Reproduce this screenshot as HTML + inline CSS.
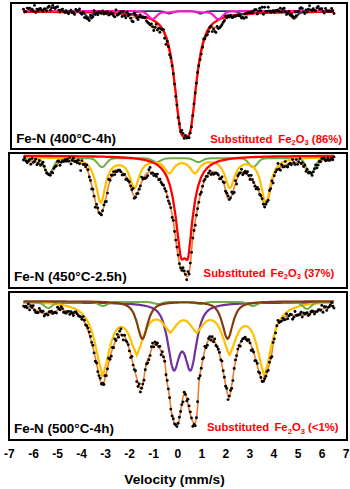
<!DOCTYPE html>
<html><head><meta charset="utf-8"><style>
html,body{margin:0;padding:0;background:#fff;}
body{width:350px;height:489px;overflow:hidden;position:relative;}
svg{position:absolute;left:0;top:0;}
text{font-family:"Liberation Sans",sans-serif;font-weight:bold;}
</style></head><body>
<svg width="350" height="489" viewBox="0 0 350 489">
<path d="M23.5,11.4L24.2,11.4L25.0,11.4L25.8,11.4L26.5,11.4L27.2,11.4L28.0,11.4L28.8,11.4L29.5,11.4L30.2,11.4L31.0,11.4L31.8,11.4L32.5,11.4L33.2,11.4L34.0,11.4L34.8,11.4L35.5,11.4L36.2,11.5L37.0,11.5L37.8,11.5L38.5,11.5L39.2,11.5L40.0,11.5L40.8,11.5L41.5,11.5L42.2,11.5L43.0,11.5L43.8,11.5L44.5,11.5L45.2,11.5L46.0,11.5L46.8,11.5L47.5,11.5L48.2,11.5L49.0,11.6L49.8,11.6L50.5,11.6L51.2,11.6L52.0,11.6L52.8,11.6L53.5,11.6L54.2,11.6L55.0,11.6L55.8,11.6L56.5,11.6L57.2,11.6L58.0,11.7L58.8,11.7L59.5,11.7L60.2,11.7L61.0,11.7L61.8,11.7L62.5,11.7L63.2,11.7L64.0,11.7L64.8,11.8L65.5,11.8L66.2,11.8L67.0,11.8L67.8,11.8L68.5,11.8L69.2,11.9L70.0,11.9L70.8,11.9L71.5,11.9L72.2,12.0L73.0,12.0L73.8,12.0L74.5,12.1L75.2,12.1L76.0,12.1L76.8,12.2L77.5,12.3L78.2,12.3L79.0,12.4L79.8,12.5L80.5,12.7L81.2,12.9L82.0,13.2L82.8,13.5L83.5,14.0L84.2,14.5L85.0,15.2L85.8,16.0L86.5,16.8L87.2,17.6L88.0,18.2L88.8,18.5L89.5,18.5L90.2,18.0L91.0,17.4L91.8,16.6L92.5,15.9L93.2,15.2L94.0,14.6L94.8,14.1L95.5,13.7L96.2,13.4L97.0,13.2L97.8,13.0L98.5,12.9L99.2,12.9L100.0,12.8L100.8,12.8L101.5,12.8L102.2,12.7L103.0,12.7L103.8,12.7L104.5,12.7L105.2,12.8L106.0,12.8L106.8,12.8L107.5,12.8L108.2,12.8L109.0,12.8L109.8,12.9L110.5,12.9L111.2,12.9L112.0,13.0L112.8,13.0L113.5,13.1L114.2,13.1L115.0,13.1L115.8,13.2L116.5,13.2L117.2,13.3L118.0,13.4L118.8,13.4L119.5,13.5L120.2,13.6L121.0,13.7L121.8,13.8L122.5,13.9L123.2,14.1L124.0,14.3L124.8,14.5L125.5,14.8L126.2,15.2L127.0,15.6L127.8,16.1L128.5,16.6L129.2,17.1L130.0,17.5L130.8,17.8L131.5,17.8L132.2,17.7L133.0,17.4L133.8,17.1L134.5,16.8L135.2,16.6L136.0,16.4L136.8,16.2L137.5,16.2L138.2,16.1L139.0,16.2L139.8,16.3L140.5,16.5L141.2,16.7L142.0,16.9L142.8,17.3L143.5,17.7L144.2,18.2L145.0,18.8L145.8,19.5L146.5,20.3L147.2,21.3L148.0,22.3L148.8,23.3L149.5,24.4L150.2,25.4L151.0,26.3L151.8,27.1L152.5,27.6L153.2,27.9L154.0,27.9L154.8,27.8L155.5,27.7L156.2,27.4L157.0,27.3L157.8,27.2L158.5,27.3L159.2,27.5L160.0,27.9L160.8,28.5L161.5,29.3L162.2,30.3L163.0,31.6L163.8,33.1L164.5,34.8L165.2,36.9L166.0,39.1L166.8,41.7L167.5,44.5L168.2,47.5L169.0,50.7L169.8,54.1L170.5,57.8L171.2,61.7L172.0,66.0L172.8,70.8L173.5,76.1L174.2,81.8L175.0,88.0L175.8,94.5L176.5,101.2L177.2,108.0L178.0,114.4L178.8,120.4L179.5,125.5L180.2,129.7L181.0,132.8L181.8,134.8L182.5,136.0L183.2,136.6L184.0,136.7L184.8,136.7L185.5,136.7L186.2,136.7L187.0,136.7L187.8,136.5L188.5,135.9L189.2,134.7L190.0,132.5L190.8,129.3L191.5,125.0L192.2,119.8L193.0,113.8L193.8,107.4L194.5,100.7L195.2,94.0L196.0,87.5L196.8,81.4L197.5,75.8L198.2,70.6L199.0,65.9L199.8,61.5L200.5,57.5L201.2,53.7L202.0,50.1L202.8,46.8L203.5,43.8L204.2,41.1L205.0,38.6L205.8,36.4L206.5,34.4L207.2,32.8L208.0,31.3L208.8,30.1L209.5,29.2L210.2,28.4L211.0,27.9L211.8,27.5L212.5,27.3L213.2,27.3L214.0,27.4L214.8,27.6L215.5,27.8L216.2,28.0L217.0,28.1L217.8,28.0L218.5,27.7L219.2,27.2L220.0,26.4L220.8,25.4L221.5,24.4L222.2,23.3L223.0,22.2L223.8,21.2L224.5,20.2L225.2,19.4L226.0,18.7L226.8,18.1L227.5,17.6L228.2,17.2L229.0,16.8L229.8,16.5L230.5,16.3L231.2,16.1L232.0,15.9L232.8,15.8L233.5,15.7L234.2,15.6L235.0,15.6L235.8,15.5L236.5,15.6L237.2,15.7L238.0,15.9L238.8,16.1L239.5,16.4L240.2,16.7L241.0,17.0L241.8,17.3L242.5,17.5L243.2,17.4L244.0,17.2L244.8,16.8L245.5,16.3L246.2,15.8L247.0,15.3L247.8,14.9L248.5,14.6L249.2,14.3L250.0,14.0L250.8,13.8L251.5,13.7L252.2,13.6L253.0,13.5L253.8,13.4L254.5,13.3L255.2,13.2L256.0,13.2L256.8,13.1L257.5,13.0L258.2,13.0L259.0,12.9L259.8,12.9L260.5,12.9L261.2,12.8L262.0,12.8L262.8,12.8L263.5,12.7L264.2,12.7L265.0,12.7L265.8,12.6L266.5,12.6L267.2,12.6L268.0,12.6L268.8,12.5L269.5,12.5L270.2,12.5L271.0,12.5L271.8,12.5L272.5,12.4L273.2,12.4L274.0,12.4L274.8,12.4L275.5,12.4L276.2,12.4L277.0,12.4L277.8,12.4L278.5,12.4L279.2,12.4L280.0,12.4L280.8,12.4L281.5,12.5L282.2,12.5L283.0,12.6L283.8,12.6L284.5,12.7L285.2,12.9L286.0,13.0L286.8,13.3L287.5,13.6L288.2,14.1L289.0,14.7L289.8,15.4L290.5,16.2L291.2,17.1L292.0,18.0L292.8,18.7L293.5,19.2L294.2,19.3L295.0,18.9L295.8,18.2L296.5,17.3L297.2,16.4L298.0,15.5L298.8,14.7L299.5,14.1L300.2,13.6L301.0,13.2L301.8,12.9L302.5,12.6L303.2,12.5L304.0,12.3L304.8,12.2L305.5,12.2L306.2,12.1L307.0,12.0L307.8,12.0L308.5,12.0L309.2,11.9L310.0,11.9L310.8,11.9L311.5,11.8L312.2,11.8L313.0,11.8L313.8,11.8L314.5,11.7L315.2,11.7L316.0,11.7L316.8,11.7L317.5,11.7L318.2,11.7L319.0,11.6L319.8,11.6L320.5,11.6L321.2,11.6L322.0,11.6L322.8,11.6L323.5,11.6L324.2,11.6L325.0,11.6L325.8,11.6L326.5,11.5L327.2,11.5L328.0,11.5L328.8,11.5L329.5,11.5L330.2,11.5L331.0,11.5L331.8,11.5L332.5,11.5L333.2,11.5L334.0,11.5" stroke="#ED7D31" stroke-width="1.6" fill="none"/>
<path d="M23.5,11.7L24.2,11.8L25.0,11.8L25.8,11.8L26.5,11.8L27.2,11.8L28.0,11.8L28.8,11.8L29.5,11.8L30.2,11.8L31.0,11.8L31.8,11.8L32.5,11.8L33.2,11.8L34.0,11.8L34.8,11.8L35.5,11.8L36.2,11.8L37.0,11.8L37.8,11.8L38.5,11.8L39.2,11.8L40.0,11.8L40.8,11.8L41.5,11.8L42.2,11.8L43.0,11.9L43.8,11.9L44.5,11.9L45.2,11.9L46.0,11.9L46.8,11.9L47.5,11.9L48.2,11.9L49.0,11.9L49.8,11.9L50.5,11.9L51.2,11.9L52.0,11.9L52.8,11.9L53.5,11.9L54.2,11.9L55.0,11.9L55.8,11.9L56.5,11.9L57.2,12.0L58.0,12.0L58.8,12.0L59.5,12.0L60.2,12.0L61.0,12.0L61.8,12.0L62.5,12.0L63.2,12.0L64.0,12.0L64.8,12.0L65.5,12.0L66.2,12.0L67.0,12.1L67.8,12.1L68.5,12.1L69.2,12.1L70.0,12.1L70.8,12.1L71.5,12.1L72.2,12.1L73.0,12.1L73.8,12.1L74.5,12.1L75.2,12.2L76.0,12.2L76.8,12.2L77.5,12.2L78.2,12.2L79.0,12.2L79.8,12.2L80.5,12.2L81.2,12.2L82.0,12.3L82.8,12.3L83.5,12.3L84.2,12.3L85.0,12.3L85.8,12.3L86.5,12.3L87.2,12.3L88.0,12.4L88.8,12.4L89.5,12.4L90.2,12.4L91.0,12.4L91.8,12.4L92.5,12.5L93.2,12.5L94.0,12.5L94.8,12.5L95.5,12.5L96.2,12.5L97.0,12.6L97.8,12.6L98.5,12.6L99.2,12.6L100.0,12.7L100.8,12.7L101.5,12.7L102.2,12.7L103.0,12.7L103.8,12.8L104.5,12.8L105.2,12.8L106.0,12.8L106.8,12.9L107.5,12.9L108.2,12.9L109.0,13.0L109.8,13.0L110.5,13.0L111.2,13.1L112.0,13.1L112.8,13.1L113.5,13.2L114.2,13.2L115.0,13.2L115.8,13.3L116.5,13.3L117.2,13.4L118.0,13.4L118.8,13.5L119.5,13.5L120.2,13.6L121.0,13.6L121.8,13.7L122.5,13.7L123.2,13.8L124.0,13.8L124.8,13.9L125.5,13.9L126.2,14.0L127.0,14.1L127.8,14.1L128.5,14.2L129.2,14.3L130.0,14.4L130.8,14.5L131.5,14.5L132.2,14.6L133.0,14.7L133.8,14.8L134.5,14.9L135.2,15.0L136.0,15.1L136.8,15.3L137.5,15.4L138.2,15.5L139.0,15.6L139.8,15.8L140.5,15.9L141.2,16.1L142.0,16.3L142.8,16.4L143.5,16.6L144.2,16.8L145.0,17.0L145.8,17.2L146.5,17.4L147.2,17.7L148.0,17.9L148.8,18.2L149.5,18.5L150.2,18.8L151.0,19.1L151.8,19.5L152.5,19.8L153.2,20.2L154.0,20.7L154.8,21.1L155.5,21.6L156.2,22.1L157.0,22.7L157.8,23.4L158.5,24.0L159.2,24.8L160.0,25.6L160.8,26.5L161.5,27.5L162.2,28.6L163.0,29.9L163.8,31.3L164.5,32.8L165.2,34.6L166.0,36.5L166.8,38.7L167.5,41.2L168.2,43.9L169.0,47.0L169.8,50.5L170.5,54.4L171.2,58.7L172.0,63.4L172.8,68.6L173.5,74.2L174.2,80.3L175.0,86.8L175.8,93.5L176.5,100.5L177.2,107.3L178.0,113.9L178.8,119.9L179.5,125.1L180.2,129.4L181.0,132.5L181.8,134.6L182.5,135.8L183.2,136.4L184.0,136.5L184.8,136.5L185.5,136.5L186.2,136.5L187.0,136.5L187.8,136.3L188.5,135.7L189.2,134.4L190.0,132.2L190.8,129.0L191.5,124.6L192.2,119.3L193.0,113.2L193.8,106.6L194.5,99.7L195.2,92.8L196.0,86.1L196.8,79.6L197.5,73.6L198.2,68.0L199.0,62.9L199.8,58.2L200.5,53.9L201.2,50.1L202.0,46.7L202.8,43.6L203.5,40.9L204.2,38.5L205.0,36.3L205.8,34.4L206.5,32.7L207.2,31.1L208.0,29.7L208.8,28.5L209.5,27.4L210.2,26.4L211.0,25.5L211.8,24.7L212.5,24.0L213.2,23.3L214.0,22.7L214.8,22.1L215.5,21.6L216.2,21.1L217.0,20.6L217.8,20.2L218.5,19.8L219.2,19.4L220.0,19.1L220.8,18.8L221.5,18.5L222.2,18.2L223.0,17.9L223.8,17.6L224.5,17.4L225.2,17.2L226.0,17.0L226.8,16.8L227.5,16.6L228.2,16.4L229.0,16.2L229.8,16.1L230.5,15.9L231.2,15.8L232.0,15.6L232.8,15.5L233.5,15.4L234.2,15.2L235.0,15.1L235.8,15.0L236.5,14.9L237.2,14.8L238.0,14.7L238.8,14.6L239.5,14.5L240.2,14.4L241.0,14.4L241.8,14.3L242.5,14.2L243.2,14.1L244.0,14.1L244.8,14.0L245.5,13.9L246.2,13.9L247.0,13.8L247.8,13.8L248.5,13.7L249.2,13.6L250.0,13.6L250.8,13.5L251.5,13.5L252.2,13.5L253.0,13.4L253.8,13.4L254.5,13.3L255.2,13.3L256.0,13.2L256.8,13.2L257.5,13.2L258.2,13.1L259.0,13.1L259.8,13.1L260.5,13.0L261.2,13.0L262.0,13.0L262.8,12.9L263.5,12.9L264.2,12.9L265.0,12.8L265.8,12.8L266.5,12.8L267.2,12.8L268.0,12.7L268.8,12.7L269.5,12.7L270.2,12.7L271.0,12.6L271.8,12.6L272.5,12.6L273.2,12.6L274.0,12.6L274.8,12.5L275.5,12.5L276.2,12.5L277.0,12.5L277.8,12.5L278.5,12.5L279.2,12.4L280.0,12.4L280.8,12.4L281.5,12.4L282.2,12.4L283.0,12.4L283.8,12.3L284.5,12.3L285.2,12.3L286.0,12.3L286.8,12.3L287.5,12.3L288.2,12.3L289.0,12.3L289.8,12.2L290.5,12.2L291.2,12.2L292.0,12.2L292.8,12.2L293.5,12.2L294.2,12.2L295.0,12.2L295.8,12.2L296.5,12.1L297.2,12.1L298.0,12.1L298.8,12.1L299.5,12.1L300.2,12.1L301.0,12.1L301.8,12.1L302.5,12.1L303.2,12.1L304.0,12.1L304.8,12.0L305.5,12.0L306.2,12.0L307.0,12.0L307.8,12.0L308.5,12.0L309.2,12.0L310.0,12.0L310.8,12.0L311.5,12.0L312.2,12.0L313.0,12.0L313.8,12.0L314.5,11.9L315.2,11.9L316.0,11.9L316.8,11.9L317.5,11.9L318.2,11.9L319.0,11.9L319.8,11.9L320.5,11.9L321.2,11.9L322.0,11.9L322.8,11.9L323.5,11.9L324.2,11.9L325.0,11.9L325.8,11.9L326.5,11.9L327.2,11.9L328.0,11.8L328.8,11.8L329.5,11.8L330.2,11.8L331.0,11.8L331.8,11.8L332.5,11.8L333.2,11.8L334.0,11.8" stroke="#FF0000" stroke-width="2.3" fill="none"/>
<path d="M23.5,10.9L24.2,10.9L25.0,10.9L25.8,10.9L26.5,10.9L27.2,10.9L28.0,10.9L28.8,10.9L29.5,10.9L30.2,10.9L31.0,10.9L31.8,10.9L32.5,10.9L33.2,10.9L34.0,10.9L34.8,10.9L35.5,10.9L36.2,10.9L37.0,10.9L37.8,10.9L38.5,10.9L39.2,10.9L40.0,10.9L40.8,10.9L41.5,10.9L42.2,10.9L43.0,10.9L43.8,10.9L44.5,10.9L45.2,10.9L46.0,10.9L46.8,10.9L47.5,10.9L48.2,10.9L49.0,10.9L49.8,11.0L50.5,11.0L51.2,11.0L52.0,11.0L52.8,11.0L53.5,11.0L54.2,11.0L55.0,11.0L55.8,11.0L56.5,11.0L57.2,11.0L58.0,11.0L58.8,11.0L59.5,11.0L60.2,11.0L61.0,11.0L61.8,11.0L62.5,11.0L63.2,11.0L64.0,11.0L64.8,11.0L65.5,11.0L66.2,11.0L67.0,11.0L67.8,11.0L68.5,11.1L69.2,11.1L70.0,11.1L70.8,11.1L71.5,11.1L72.2,11.1L73.0,11.1L73.8,11.2L74.5,11.2L75.2,11.2L76.0,11.3L76.8,11.3L77.5,11.3L78.2,11.4L79.0,11.5L79.8,11.6L80.5,11.7L81.2,11.9L82.0,12.2L82.8,12.5L83.5,13.0L84.2,13.5L85.0,14.2L85.8,14.9L86.5,15.7L87.2,16.5L88.0,17.1L88.8,17.4L89.5,17.3L90.2,16.9L91.0,16.2L91.8,15.5L92.5,14.7L93.2,14.0L94.0,13.3L94.8,12.8L95.5,12.4L96.2,12.1L97.0,11.9L97.8,11.7L98.5,11.6L99.2,11.5L100.0,11.4L100.8,11.4L101.5,11.3L102.2,11.3L103.0,11.2L103.8,11.2L104.5,11.2L105.2,11.2L106.0,11.2L106.8,11.2L107.5,11.1L108.2,11.1L109.0,11.1L109.8,11.1L110.5,11.1L111.2,11.1L112.0,11.1L112.8,11.1L113.5,11.1L114.2,11.1L115.0,11.1L115.8,11.1L116.5,11.1L117.2,11.2L118.0,11.2L118.8,11.2L119.5,11.2L120.2,11.2L121.0,11.3L121.8,11.3L122.5,11.4L123.2,11.5L124.0,11.7L124.8,11.8L125.5,12.1L126.2,12.4L127.0,12.7L127.8,13.1L128.5,13.5L129.2,14.0L130.0,14.3L130.8,14.5L131.5,14.4L132.2,14.2L133.0,13.8L133.8,13.4L134.5,13.0L135.2,12.6L136.0,12.3L136.8,12.0L137.5,11.8L138.2,11.6L139.0,11.5L139.8,11.4L140.5,11.3L141.2,11.3L142.0,11.2L142.8,11.2L143.5,11.2L144.2,11.1L145.0,11.1L145.8,11.1L146.5,11.1L147.2,11.1L148.0,11.1L148.8,11.1L149.5,11.1L150.2,11.1L151.0,11.1L151.8,11.1L152.5,11.1L153.2,11.1L154.0,11.1L154.8,11.1L155.5,11.1L156.2,11.1L157.0,11.1L157.8,11.1L158.5,11.2L159.2,11.2L160.0,11.2L160.8,11.3L161.5,11.3L162.2,11.4L163.0,11.6L163.8,11.7L164.5,11.9L165.2,12.2L166.0,12.5L166.8,12.8L167.5,13.1L168.2,13.4L169.0,13.5L169.8,13.6L170.5,13.4L171.2,13.2L172.0,12.9L172.8,12.6L173.5,12.3L174.2,12.0L175.0,11.8L175.8,11.6L176.5,11.5L177.2,11.4L178.0,11.3L178.8,11.3L179.5,11.2L180.2,11.2L181.0,11.2L181.8,11.2L182.5,11.1L183.2,11.1L184.0,11.1L184.8,11.1L185.5,11.1L186.2,11.1L187.0,11.1L187.8,11.1L188.5,11.2L189.2,11.2L190.0,11.2L190.8,11.2L191.5,11.3L192.2,11.3L193.0,11.4L193.8,11.5L194.5,11.7L195.2,11.8L196.0,12.1L196.8,12.3L197.5,12.6L198.2,12.9L199.0,13.2L199.8,13.5L200.5,13.6L201.2,13.5L202.0,13.3L202.8,13.0L203.5,12.7L204.2,12.4L205.0,12.1L205.8,11.9L206.5,11.7L207.2,11.5L208.0,11.4L208.8,11.3L209.5,11.3L210.2,11.2L211.0,11.2L211.8,11.2L212.5,11.1L213.2,11.1L214.0,11.1L214.8,11.1L215.5,11.1L216.2,11.1L217.0,11.1L217.8,11.1L218.5,11.1L219.2,11.1L220.0,11.1L220.8,11.1L221.5,11.1L222.2,11.1L223.0,11.1L223.8,11.1L224.5,11.1L225.2,11.1L226.0,11.1L226.8,11.1L227.5,11.1L228.2,11.1L229.0,11.1L229.8,11.1L230.5,11.2L231.2,11.2L232.0,11.2L232.8,11.2L233.5,11.3L234.2,11.4L235.0,11.5L235.8,11.6L236.5,11.8L237.2,12.0L238.0,12.2L238.8,12.6L239.5,13.0L240.2,13.4L241.0,13.8L241.8,14.2L242.5,14.4L243.2,14.4L244.0,14.3L244.8,13.9L245.5,13.5L246.2,13.1L247.0,12.7L247.8,12.4L248.5,12.1L249.2,11.8L250.0,11.6L250.8,11.5L251.5,11.4L252.2,11.3L253.0,11.3L253.8,11.2L254.5,11.2L255.2,11.2L256.0,11.1L256.8,11.1L257.5,11.1L258.2,11.1L259.0,11.1L259.8,11.1L260.5,11.1L261.2,11.1L262.0,11.1L262.8,11.1L263.5,11.1L264.2,11.1L265.0,11.1L265.8,11.1L266.5,11.1L267.2,11.1L268.0,11.1L268.8,11.1L269.5,11.1L270.2,11.1L271.0,11.1L271.8,11.1L272.5,11.1L273.2,11.1L274.0,11.1L274.8,11.1L275.5,11.1L276.2,11.2L277.0,11.2L277.8,11.2L278.5,11.2L279.2,11.2L280.0,11.3L280.8,11.3L281.5,11.4L282.2,11.4L283.0,11.5L283.8,11.6L284.5,11.7L285.2,11.8L286.0,12.0L286.8,12.3L287.5,12.6L288.2,13.1L289.0,13.7L289.8,14.4L290.5,15.2L291.2,16.1L292.0,17.0L292.8,17.8L293.5,18.3L294.2,18.4L295.0,18.0L295.8,17.3L296.5,16.4L297.2,15.5L298.0,14.7L298.8,13.9L299.5,13.3L300.2,12.8L301.0,12.4L301.8,12.1L302.5,11.9L303.2,11.7L304.0,11.6L304.8,11.5L305.5,11.4L306.2,11.4L307.0,11.3L307.8,11.3L308.5,11.2L309.2,11.2L310.0,11.2L310.8,11.2L311.5,11.1L312.2,11.1L313.0,11.1L313.8,11.1L314.5,11.1L315.2,11.1L316.0,11.1L316.8,11.0L317.5,11.0L318.2,11.0L319.0,11.0L319.8,11.0L320.5,11.0L321.2,11.0L322.0,11.0L322.8,11.0L323.5,11.0L324.2,11.0L325.0,11.0L325.8,11.0L326.5,11.0L327.2,11.0L328.0,11.0L328.8,11.0L329.5,11.0L330.2,11.0L331.0,11.0L331.8,11.0L332.5,11.0L333.2,11.0L334.0,11.0" stroke="#203864" stroke-width="1.8" fill="none"/>
<path d="M23.5,11.0L24.2,11.0L25.0,11.0L25.8,11.0L26.5,11.0L27.2,11.0L28.0,11.0L28.8,11.0L29.5,11.0L30.2,11.0L31.0,11.0L31.8,11.0L32.5,11.0L33.2,11.0L34.0,11.0L34.8,11.0L35.5,11.0L36.2,11.0L37.0,11.0L37.8,11.0L38.5,11.0L39.2,11.0L40.0,11.0L40.8,11.0L41.5,11.0L42.2,11.0L43.0,11.0L43.8,11.0L44.5,11.0L45.2,11.0L46.0,11.0L46.8,11.0L47.5,11.0L48.2,11.0L49.0,11.0L49.8,11.0L50.5,11.0L51.2,11.0L52.0,11.0L52.8,11.0L53.5,11.0L54.2,11.0L55.0,11.0L55.8,11.0L56.5,11.0L57.2,11.0L58.0,11.0L58.8,11.0L59.5,11.0L60.2,11.0L61.0,11.0L61.8,11.0L62.5,11.0L63.2,11.0L64.0,11.0L64.8,11.0L65.5,11.0L66.2,11.0L67.0,11.0L67.8,11.0L68.5,11.0L69.2,11.0L70.0,11.0L70.8,11.0L71.5,11.0L72.2,11.0L73.0,11.0L73.8,11.0L74.5,11.0L75.2,11.0L76.0,11.0L76.8,11.0L77.5,11.0L78.2,11.0L79.0,11.0L79.8,11.0L80.5,11.0L81.2,11.0L82.0,11.0L82.8,11.0L83.5,11.0L84.2,11.0L85.0,11.0L85.8,11.0L86.5,11.0L87.2,11.0L88.0,11.0L88.8,11.0L89.5,11.0L90.2,11.0L91.0,11.0L91.8,11.0L92.5,11.0L93.2,11.0L94.0,11.0L94.8,11.0L95.5,11.0L96.2,11.0L97.0,11.0L97.8,11.0L98.5,11.0L99.2,11.0L100.0,11.0L100.8,11.0L101.5,11.0L102.2,11.0L103.0,11.0L103.8,11.0L104.5,11.0L105.2,11.0L106.0,11.0L106.8,11.0L107.5,11.0L108.2,11.1L109.0,11.1L109.8,11.1L110.5,11.1L111.2,11.1L112.0,11.1L112.8,11.1L113.5,11.1L114.2,11.1L115.0,11.1L115.8,11.1L116.5,11.1L117.2,11.1L118.0,11.1L118.8,11.1L119.5,11.1L120.2,11.1L121.0,11.1L121.8,11.1L122.5,11.1L123.2,11.1L124.0,11.1L124.8,11.1L125.5,11.1L126.2,11.1L127.0,11.1L127.8,11.1L128.5,11.1L129.2,11.1L130.0,11.2L130.8,11.2L131.5,11.2L132.2,11.2L133.0,11.2L133.8,11.2L134.5,11.2L135.2,11.2L136.0,11.3L136.8,11.3L137.5,11.3L138.2,11.3L139.0,11.4L139.8,11.4L140.5,11.5L141.2,11.6L142.0,11.8L142.8,12.0L143.5,12.2L144.2,12.6L145.0,13.0L145.8,13.5L146.5,14.1L147.2,14.8L148.0,15.5L148.8,16.3L149.5,17.1L150.2,17.8L151.0,18.4L151.8,18.8L152.5,19.0L153.2,18.9L154.0,18.5L154.8,17.9L155.5,17.2L156.2,16.5L157.0,15.7L157.8,15.0L158.5,14.4L159.2,13.8L160.0,13.3L160.8,13.0L161.5,12.7L162.2,12.5L163.0,12.4L163.8,12.4L164.5,12.4L165.2,12.4L166.0,12.4L166.8,12.5L167.5,12.5L168.2,12.5L169.0,12.4L169.8,12.4L170.5,12.3L171.2,12.2L172.0,12.0L172.8,11.9L173.5,11.9L174.2,11.8L175.0,11.7L175.8,11.6L176.5,11.6L177.2,11.5L178.0,11.5L178.8,11.5L179.5,11.4L180.2,11.4L181.0,11.4L181.8,11.4L182.5,11.4L183.2,11.4L184.0,11.4L184.8,11.4L185.5,11.4L186.2,11.4L187.0,11.4L187.8,11.4L188.5,11.4L189.2,11.4L190.0,11.4L190.8,11.4L191.5,11.4L192.2,11.5L193.0,11.5L193.8,11.5L194.5,11.6L195.2,11.6L196.0,11.7L196.8,11.8L197.5,11.9L198.2,11.9L199.0,12.1L199.8,12.2L200.5,12.3L201.2,12.4L202.0,12.4L202.8,12.5L203.5,12.5L204.2,12.5L205.0,12.5L205.8,12.4L206.5,12.4L207.2,12.4L208.0,12.5L208.8,12.6L209.5,12.8L210.2,13.1L211.0,13.5L211.8,13.9L212.5,14.5L213.2,15.2L214.0,15.9L214.8,16.7L215.5,17.5L216.2,18.2L217.0,18.7L217.8,19.1L218.5,19.2L219.2,19.0L220.0,18.6L220.8,17.9L221.5,17.2L222.2,16.4L223.0,15.5L223.8,14.8L224.5,14.1L225.2,13.5L226.0,13.0L226.8,12.5L227.5,12.2L228.2,12.0L229.0,11.8L229.8,11.6L230.5,11.5L231.2,11.4L232.0,11.4L232.8,11.3L233.5,11.3L234.2,11.3L235.0,11.3L235.8,11.2L236.5,11.2L237.2,11.2L238.0,11.2L238.8,11.2L239.5,11.2L240.2,11.2L241.0,11.2L241.8,11.1L242.5,11.1L243.2,11.1L244.0,11.1L244.8,11.1L245.5,11.1L246.2,11.1L247.0,11.1L247.8,11.1L248.5,11.1L249.2,11.1L250.0,11.1L250.8,11.1L251.5,11.1L252.2,11.1L253.0,11.1L253.8,11.1L254.5,11.1L255.2,11.1L256.0,11.1L256.8,11.1L257.5,11.1L258.2,11.1L259.0,11.1L259.8,11.1L260.5,11.1L261.2,11.1L262.0,11.1L262.8,11.1L263.5,11.1L264.2,11.0L265.0,11.0L265.8,11.0L266.5,11.0L267.2,11.0L268.0,11.0L268.8,11.0L269.5,11.0L270.2,11.0L271.0,11.0L271.8,11.0L272.5,11.0L273.2,11.0L274.0,11.0L274.8,11.0L275.5,11.0L276.2,11.0L277.0,11.0L277.8,11.0L278.5,11.0L279.2,11.0L280.0,11.0L280.8,11.0L281.5,11.0L282.2,11.0L283.0,11.0L283.8,11.0L284.5,11.0L285.2,11.0L286.0,11.0L286.8,11.0L287.5,11.0L288.2,11.0L289.0,11.0L289.8,11.0L290.5,11.0L291.2,11.0L292.0,11.0L292.8,11.0L293.5,11.0L294.2,11.0L295.0,11.0L295.8,11.0L296.5,11.0L297.2,11.0L298.0,11.0L298.8,11.0L299.5,11.0L300.2,11.0L301.0,11.0L301.8,11.0L302.5,11.0L303.2,11.0L304.0,11.0L304.8,11.0L305.5,11.0L306.2,11.0L307.0,11.0L307.8,11.0L308.5,11.0L309.2,11.0L310.0,11.0L310.8,11.0L311.5,11.0L312.2,11.0L313.0,11.0L313.8,11.0L314.5,11.0L315.2,11.0L316.0,11.0L316.8,11.0L317.5,11.0L318.2,11.0L319.0,11.0L319.8,11.0L320.5,11.0L321.2,11.0L322.0,11.0L322.8,11.0L323.5,11.0L324.2,11.0L325.0,11.0L325.8,11.0L326.5,11.0L327.2,11.0L328.0,11.0L328.8,11.0L329.5,11.0L330.2,11.0L331.0,11.0L331.8,11.0L332.5,11.0L333.2,11.0L334.0,11.0" stroke="#FF19C8" stroke-width="2.2" fill="none"/>
<g fill="#000"><circle cx="23.5" cy="9.2" r="1.45"/><circle cx="24.7" cy="12.0" r="1.45"/><circle cx="25.9" cy="11.8" r="1.45"/><circle cx="27.2" cy="8.1" r="1.45"/><circle cx="28.4" cy="8.6" r="1.45"/><circle cx="29.6" cy="8.1" r="1.45"/><circle cx="30.8" cy="10.4" r="1.45"/><circle cx="32.0" cy="9.1" r="1.45"/><circle cx="33.2" cy="10.8" r="1.45"/><circle cx="34.5" cy="5.4" r="1.45"/><circle cx="35.7" cy="12.5" r="1.45"/><circle cx="36.9" cy="9.1" r="1.45"/><circle cx="38.1" cy="10.7" r="1.45"/><circle cx="39.3" cy="9.0" r="1.45"/><circle cx="40.5" cy="8.5" r="1.45"/><circle cx="41.8" cy="10.3" r="1.45"/><circle cx="43.0" cy="11.0" r="1.45"/><circle cx="44.2" cy="8.9" r="1.45"/><circle cx="45.4" cy="9.0" r="1.45"/><circle cx="46.6" cy="10.8" r="1.45"/><circle cx="47.9" cy="7.5" r="1.45"/><circle cx="49.1" cy="6.2" r="1.45"/><circle cx="50.3" cy="10.2" r="1.45"/><circle cx="51.5" cy="8.0" r="1.45"/><circle cx="52.7" cy="5.4" r="1.45"/><circle cx="53.9" cy="7.7" r="1.45"/><circle cx="55.2" cy="8.5" r="1.45"/><circle cx="56.4" cy="7.1" r="1.45"/><circle cx="57.6" cy="6.7" r="1.45"/><circle cx="58.8" cy="10.1" r="1.45"/><circle cx="60.0" cy="12.1" r="1.45"/><circle cx="61.2" cy="9.9" r="1.45"/><circle cx="62.5" cy="9.1" r="1.45"/><circle cx="63.7" cy="11.6" r="1.45"/><circle cx="64.9" cy="12.5" r="1.45"/><circle cx="66.1" cy="10.6" r="1.45"/><circle cx="67.3" cy="12.6" r="1.45"/><circle cx="68.6" cy="13.8" r="1.45"/><circle cx="69.8" cy="11.4" r="1.45"/><circle cx="71.0" cy="10.2" r="1.45"/><circle cx="72.2" cy="12.7" r="1.45"/><circle cx="73.4" cy="12.5" r="1.45"/><circle cx="74.6" cy="14.4" r="1.45"/><circle cx="75.9" cy="9.4" r="1.45"/><circle cx="77.1" cy="10.8" r="1.45"/><circle cx="78.3" cy="10.6" r="1.45"/><circle cx="79.5" cy="8.9" r="1.45"/><circle cx="80.7" cy="13.0" r="1.45"/><circle cx="81.9" cy="14.3" r="1.45"/><circle cx="83.2" cy="12.2" r="1.45"/><circle cx="84.4" cy="17.6" r="1.45"/><circle cx="85.6" cy="17.5" r="1.45"/><circle cx="86.8" cy="18.4" r="1.45"/><circle cx="88.0" cy="19.0" r="1.45"/><circle cx="89.3" cy="20.5" r="1.45"/><circle cx="90.5" cy="15.1" r="1.45"/><circle cx="91.7" cy="18.0" r="1.45"/><circle cx="92.9" cy="16.7" r="1.45"/><circle cx="94.1" cy="10.8" r="1.45"/><circle cx="95.3" cy="14.5" r="1.45"/><circle cx="96.6" cy="12.8" r="1.45"/><circle cx="97.8" cy="14.7" r="1.45"/><circle cx="99.0" cy="12.0" r="1.45"/><circle cx="100.2" cy="12.8" r="1.45"/><circle cx="101.4" cy="13.5" r="1.45"/><circle cx="102.6" cy="10.9" r="1.45"/><circle cx="103.9" cy="14.0" r="1.45"/><circle cx="105.1" cy="12.5" r="1.45"/><circle cx="106.3" cy="13.8" r="1.45"/><circle cx="107.5" cy="11.7" r="1.45"/><circle cx="108.7" cy="15.1" r="1.45"/><circle cx="110.0" cy="14.2" r="1.45"/><circle cx="111.2" cy="12.6" r="1.45"/><circle cx="112.4" cy="14.3" r="1.45"/><circle cx="113.6" cy="15.7" r="1.45"/><circle cx="114.8" cy="16.9" r="1.45"/><circle cx="116.0" cy="9.9" r="1.45"/><circle cx="117.3" cy="15.2" r="1.45"/><circle cx="118.5" cy="14.4" r="1.45"/><circle cx="119.7" cy="13.3" r="1.45"/><circle cx="120.9" cy="11.6" r="1.45"/><circle cx="122.1" cy="16.5" r="1.45"/><circle cx="123.3" cy="11.5" r="1.45"/><circle cx="124.6" cy="15.7" r="1.45"/><circle cx="125.8" cy="17.7" r="1.45"/><circle cx="127.0" cy="12.3" r="1.45"/><circle cx="128.2" cy="15.8" r="1.45"/><circle cx="129.4" cy="14.5" r="1.45"/><circle cx="130.7" cy="18.3" r="1.45"/><circle cx="131.9" cy="21.0" r="1.45"/><circle cx="133.1" cy="21.7" r="1.45"/><circle cx="134.3" cy="13.2" r="1.45"/><circle cx="135.5" cy="15.3" r="1.45"/><circle cx="136.7" cy="17.7" r="1.45"/><circle cx="138.0" cy="19.5" r="1.45"/><circle cx="139.2" cy="17.1" r="1.45"/><circle cx="140.4" cy="14.9" r="1.45"/><circle cx="141.6" cy="17.4" r="1.45"/><circle cx="142.8" cy="17.3" r="1.45"/><circle cx="144.0" cy="17.6" r="1.45"/><circle cx="145.3" cy="17.5" r="1.45"/><circle cx="146.5" cy="21.1" r="1.45"/><circle cx="147.7" cy="22.5" r="1.45"/><circle cx="148.9" cy="23.4" r="1.45"/><circle cx="150.1" cy="24.8" r="1.45"/><circle cx="151.4" cy="24.0" r="1.45"/><circle cx="152.6" cy="26.6" r="1.45"/><circle cx="153.8" cy="30.5" r="1.45"/><circle cx="155.0" cy="27.4" r="1.45"/><circle cx="156.2" cy="24.4" r="1.45"/><circle cx="157.4" cy="30.0" r="1.45"/><circle cx="158.7" cy="28.4" r="1.45"/><circle cx="159.9" cy="32.2" r="1.45"/><circle cx="161.1" cy="29.0" r="1.45"/><circle cx="162.3" cy="29.5" r="1.45"/><circle cx="163.5" cy="29.6" r="1.45"/><circle cx="164.7" cy="38.3" r="1.45"/><circle cx="166.0" cy="44.4" r="1.45"/><circle cx="167.2" cy="41.5" r="1.45"/><circle cx="168.4" cy="46.8" r="1.45"/><circle cx="169.6" cy="54.8" r="1.45"/><circle cx="170.8" cy="57.7" r="1.45"/><circle cx="172.1" cy="65.8" r="1.45"/><circle cx="173.3" cy="73.7" r="1.45"/><circle cx="174.5" cy="84.1" r="1.45"/><circle cx="175.7" cy="96.4" r="1.45"/><circle cx="176.9" cy="105.1" r="1.45"/><circle cx="178.1" cy="117.5" r="1.45"/><circle cx="179.4" cy="123.7" r="1.45"/><circle cx="180.6" cy="131.8" r="1.45"/><circle cx="181.8" cy="130.4" r="1.45"/><circle cx="183.0" cy="133.4" r="1.45"/><circle cx="184.2" cy="138.4" r="1.45"/><circle cx="185.4" cy="135.5" r="1.45"/><circle cx="186.7" cy="138.0" r="1.45"/><circle cx="187.9" cy="137.6" r="1.45"/><circle cx="189.1" cy="137.8" r="1.45"/><circle cx="190.3" cy="133.0" r="1.45"/><circle cx="191.5" cy="127.0" r="1.45"/><circle cx="192.8" cy="115.6" r="1.45"/><circle cx="194.0" cy="103.9" r="1.45"/><circle cx="195.2" cy="93.0" r="1.45"/><circle cx="196.4" cy="83.2" r="1.45"/><circle cx="197.6" cy="72.5" r="1.45"/><circle cx="198.8" cy="65.7" r="1.45"/><circle cx="200.1" cy="59.6" r="1.45"/><circle cx="201.3" cy="54.1" r="1.45"/><circle cx="202.5" cy="47.2" r="1.45"/><circle cx="203.7" cy="39.0" r="1.45"/><circle cx="204.9" cy="38.7" r="1.45"/><circle cx="206.1" cy="35.8" r="1.45"/><circle cx="207.4" cy="34.8" r="1.45"/><circle cx="208.6" cy="31.6" r="1.45"/><circle cx="209.8" cy="27.5" r="1.45"/><circle cx="211.0" cy="26.3" r="1.45"/><circle cx="212.2" cy="31.6" r="1.45"/><circle cx="213.5" cy="28.9" r="1.45"/><circle cx="214.7" cy="31.4" r="1.45"/><circle cx="215.9" cy="32.4" r="1.45"/><circle cx="217.1" cy="26.4" r="1.45"/><circle cx="218.3" cy="28.6" r="1.45"/><circle cx="219.5" cy="27.9" r="1.45"/><circle cx="220.8" cy="26.6" r="1.45"/><circle cx="222.0" cy="24.8" r="1.45"/><circle cx="223.2" cy="22.4" r="1.45"/><circle cx="224.4" cy="20.7" r="1.45"/><circle cx="225.6" cy="15.9" r="1.45"/><circle cx="226.8" cy="17.7" r="1.45"/><circle cx="228.1" cy="15.7" r="1.45"/><circle cx="229.3" cy="17.0" r="1.45"/><circle cx="230.5" cy="15.3" r="1.45"/><circle cx="231.7" cy="17.3" r="1.45"/><circle cx="232.9" cy="17.5" r="1.45"/><circle cx="234.2" cy="16.3" r="1.45"/><circle cx="235.4" cy="16.2" r="1.45"/><circle cx="236.6" cy="15.8" r="1.45"/><circle cx="237.8" cy="14.9" r="1.45"/><circle cx="239.0" cy="15.8" r="1.45"/><circle cx="240.2" cy="15.7" r="1.45"/><circle cx="241.5" cy="18.0" r="1.45"/><circle cx="242.7" cy="17.5" r="1.45"/><circle cx="243.9" cy="18.4" r="1.45"/><circle cx="245.1" cy="13.7" r="1.45"/><circle cx="246.3" cy="17.4" r="1.45"/><circle cx="247.5" cy="13.0" r="1.45"/><circle cx="248.8" cy="12.4" r="1.45"/><circle cx="250.0" cy="12.9" r="1.45"/><circle cx="251.2" cy="11.6" r="1.45"/><circle cx="252.4" cy="13.1" r="1.45"/><circle cx="253.6" cy="10.9" r="1.45"/><circle cx="254.9" cy="9.6" r="1.45"/><circle cx="256.1" cy="9.7" r="1.45"/><circle cx="257.3" cy="14.0" r="1.45"/><circle cx="258.5" cy="11.1" r="1.45"/><circle cx="259.7" cy="8.3" r="1.45"/><circle cx="260.9" cy="10.7" r="1.45"/><circle cx="262.2" cy="7.3" r="1.45"/><circle cx="263.4" cy="14.3" r="1.45"/><circle cx="264.6" cy="7.3" r="1.45"/><circle cx="265.8" cy="11.4" r="1.45"/><circle cx="267.0" cy="11.5" r="1.45"/><circle cx="268.2" cy="7.3" r="1.45"/><circle cx="269.5" cy="10.9" r="1.45"/><circle cx="270.7" cy="12.4" r="1.45"/><circle cx="271.9" cy="11.2" r="1.45"/><circle cx="273.1" cy="10.8" r="1.45"/><circle cx="274.3" cy="12.2" r="1.45"/><circle cx="275.6" cy="10.5" r="1.45"/><circle cx="276.8" cy="10.9" r="1.45"/><circle cx="278.0" cy="9.9" r="1.45"/><circle cx="279.2" cy="11.5" r="1.45"/><circle cx="280.4" cy="8.3" r="1.45"/><circle cx="281.6" cy="11.9" r="1.45"/><circle cx="282.9" cy="9.3" r="1.45"/><circle cx="284.1" cy="8.2" r="1.45"/><circle cx="285.3" cy="11.4" r="1.45"/><circle cx="286.5" cy="14.6" r="1.45"/><circle cx="287.7" cy="13.6" r="1.45"/><circle cx="288.9" cy="11.3" r="1.45"/><circle cx="290.2" cy="15.1" r="1.45"/><circle cx="291.4" cy="14.1" r="1.45"/><circle cx="292.6" cy="16.1" r="1.45"/><circle cx="293.8" cy="17.3" r="1.45"/><circle cx="295.0" cy="11.8" r="1.45"/><circle cx="296.3" cy="15.8" r="1.45"/><circle cx="297.5" cy="11.8" r="1.45"/><circle cx="298.7" cy="11.1" r="1.45"/><circle cx="299.9" cy="8.5" r="1.45"/><circle cx="301.1" cy="7.7" r="1.45"/><circle cx="302.3" cy="8.5" r="1.45"/><circle cx="303.6" cy="11.9" r="1.45"/><circle cx="304.8" cy="13.5" r="1.45"/><circle cx="306.0" cy="9.9" r="1.45"/><circle cx="307.2" cy="12.1" r="1.45"/><circle cx="308.4" cy="9.2" r="1.45"/><circle cx="309.6" cy="5.7" r="1.45"/><circle cx="310.9" cy="10.0" r="1.45"/><circle cx="312.1" cy="10.5" r="1.45"/><circle cx="313.3" cy="8.7" r="1.45"/><circle cx="314.5" cy="10.2" r="1.45"/><circle cx="315.7" cy="10.7" r="1.45"/><circle cx="317.0" cy="7.7" r="1.45"/><circle cx="318.2" cy="6.4" r="1.45"/><circle cx="319.4" cy="9.0" r="1.45"/><circle cx="320.6" cy="9.0" r="1.45"/><circle cx="321.8" cy="8.7" r="1.45"/><circle cx="323.0" cy="11.5" r="1.45"/><circle cx="324.3" cy="13.0" r="1.45"/><circle cx="325.5" cy="8.5" r="1.45"/><circle cx="326.7" cy="10.8" r="1.45"/><circle cx="327.9" cy="11.3" r="1.45"/><circle cx="329.1" cy="10.8" r="1.45"/><circle cx="330.3" cy="11.5" r="1.45"/><circle cx="331.6" cy="8.5" r="1.45"/><circle cx="332.8" cy="10.8" r="1.45"/><circle cx="334.0" cy="13.5" r="1.45"/></g>
<path d="M23.5,158.3L24.2,158.8L25.0,159.3L25.8,159.6L26.5,159.9L27.2,160.2L28.0,160.4L28.8,160.6L29.5,160.7L30.2,160.9L31.0,161.0L31.8,161.1L32.5,161.2L33.2,161.3L34.0,161.4L34.8,161.6L35.5,161.7L36.2,161.9L37.0,162.2L37.8,162.5L38.5,162.8L39.2,163.2L40.0,163.7L40.8,164.2L41.5,164.8L42.2,165.5L43.0,166.3L43.8,167.2L44.5,168.2L45.2,169.3L46.0,170.5L46.8,171.9L47.5,173.1L48.2,174.1L49.0,174.6L49.8,174.6L50.5,174.0L51.2,173.0L52.0,171.8L52.8,170.3L53.5,168.9L54.2,167.6L55.0,166.4L55.8,165.4L56.5,164.6L57.2,163.9L58.0,163.3L58.8,162.8L59.5,162.3L60.2,162.0L61.0,161.6L61.8,161.4L62.5,161.2L63.2,161.0L64.0,160.9L64.8,160.8L65.5,160.7L66.2,160.7L67.0,160.7L67.8,160.7L68.5,160.7L69.2,160.8L70.0,160.9L70.8,161.0L71.5,161.2L72.2,161.3L73.0,161.5L73.8,161.6L74.5,161.8L75.2,162.0L76.0,162.1L76.8,162.3L77.5,162.4L78.2,162.6L79.0,162.7L79.8,162.9L80.5,163.0L81.2,163.1L82.0,163.3L82.8,163.6L83.5,164.0L84.2,164.6L85.0,165.5L85.8,166.6L86.5,168.1L87.2,169.9L88.0,172.0L88.8,174.3L89.5,176.9L90.2,179.7L91.0,182.7L91.8,185.8L92.5,188.9L93.2,192.2L94.0,195.4L94.8,198.7L95.5,201.8L96.2,204.8L97.0,207.5L97.8,209.9L98.5,211.8L99.2,213.1L100.0,213.8L100.8,213.8L101.5,213.0L102.2,211.6L103.0,209.5L103.8,206.9L104.5,204.0L105.2,200.7L106.0,197.3L106.8,193.9L107.5,190.5L108.2,187.2L109.0,184.1L109.8,181.3L110.5,178.8L111.2,176.7L112.0,174.9L112.8,173.4L113.5,172.1L114.2,171.1L115.0,170.4L115.8,169.9L116.5,169.6L117.2,169.5L118.0,169.6L118.8,169.8L119.5,170.2L120.2,170.7L121.0,171.3L121.8,171.9L122.5,172.7L123.2,173.6L124.0,174.5L124.8,175.4L125.5,176.4L126.2,177.5L127.0,178.6L127.8,179.9L128.5,181.4L129.2,183.2L130.0,185.2L130.8,187.5L131.5,189.8L132.2,192.1L133.0,194.1L133.8,195.5L134.5,196.3L135.2,196.3L136.0,195.5L136.8,194.2L137.5,192.5L138.2,190.7L139.0,188.8L139.8,186.9L140.5,185.0L141.2,183.1L142.0,181.4L142.8,179.7L143.5,178.2L144.2,176.8L145.0,175.6L145.8,174.5L146.5,173.7L147.2,173.0L148.0,172.5L148.8,172.2L149.5,172.0L150.2,172.0L151.0,172.1L151.8,172.4L152.5,172.8L153.2,173.2L154.0,173.8L154.8,174.4L155.5,175.2L156.2,175.9L157.0,176.8L157.8,177.7L158.5,178.6L159.2,179.5L160.0,180.4L160.8,181.3L161.5,182.3L162.2,183.4L163.0,184.6L163.8,186.0L164.5,187.6L165.2,189.4L166.0,191.4L166.8,193.8L167.5,196.5L168.2,199.4L169.0,202.5L169.8,205.3L170.5,207.9L171.2,210.6L172.0,213.6L172.8,217.5L173.5,222.1L174.2,227.6L175.0,233.6L175.8,239.6L176.5,245.2L177.2,250.6L178.0,255.7L178.8,260.4L179.5,264.1L180.2,266.6L181.0,268.1L181.8,269.1L182.5,269.8L183.2,270.6L184.0,271.8L184.8,273.3L185.5,274.7L186.2,276.0L187.0,276.7L187.8,276.6L188.5,275.3L189.2,272.3L190.0,267.1L190.8,259.9L191.5,251.8L192.2,243.8L193.0,237.0L193.8,231.3L194.5,226.3L195.2,221.5L196.0,216.9L196.8,212.5L197.5,208.4L198.2,204.5L199.0,200.8L199.8,197.4L200.5,194.1L201.2,191.1L202.0,188.4L202.8,185.8L203.5,183.5L204.2,181.3L205.0,179.4L205.8,177.7L206.5,176.2L207.2,175.0L208.0,173.9L208.8,173.0L209.5,172.4L210.2,171.9L211.0,171.6L211.8,171.4L212.5,171.5L213.2,171.6L214.0,171.9L214.8,172.3L215.5,172.8L216.2,173.4L217.0,174.1L217.8,174.9L218.5,175.7L219.2,176.6L220.0,177.5L220.8,178.4L221.5,179.4L222.2,180.4L223.0,181.7L223.8,183.5L224.5,185.9L225.2,189.1L226.0,192.5L226.8,195.5L227.5,197.7L228.2,198.9L229.0,199.4L229.8,199.1L230.5,198.1L231.2,196.7L232.0,194.8L232.8,192.6L233.5,190.2L234.2,187.6L235.0,185.1L235.8,182.7L236.5,180.4L237.2,178.5L238.0,176.7L238.8,175.3L239.5,174.1L240.2,173.2L241.0,172.6L241.8,172.2L242.5,172.0L243.2,172.1L244.0,172.3L244.8,172.6L245.5,173.1L246.2,173.7L247.0,174.4L247.8,175.2L248.5,175.9L249.2,176.7L250.0,177.6L250.8,178.4L251.5,179.3L252.2,180.3L253.0,181.3L253.8,182.3L254.5,183.5L255.2,184.7L256.0,185.9L256.8,187.3L257.5,188.7L258.2,190.3L259.0,191.9L259.8,193.6L260.5,195.5L261.2,197.3L262.0,199.1L262.8,200.8L263.5,202.1L264.2,203.2L265.0,203.7L265.8,203.7L266.5,203.1L267.2,201.8L268.0,199.9L268.8,197.3L269.5,194.3L270.2,190.9L271.0,187.3L271.8,183.8L272.5,180.5L273.2,177.6L274.0,175.2L274.8,173.3L275.5,171.9L276.2,170.7L277.0,169.8L277.8,169.0L278.5,168.3L279.2,167.7L280.0,167.2L280.8,166.7L281.5,166.3L282.2,165.9L283.0,165.6L283.8,165.3L284.5,165.1L285.2,164.9L286.0,164.7L286.8,164.5L287.5,164.3L288.2,164.0L289.0,163.8L289.8,163.6L290.5,163.3L291.2,163.1L292.0,162.9L292.8,162.7L293.5,162.5L294.2,162.4L295.0,162.3L295.8,162.2L296.5,162.2L297.2,162.3L298.0,162.4L298.8,162.6L299.5,162.8L300.2,163.2L301.0,163.6L301.8,164.1L302.5,164.8L303.2,165.5L304.0,166.4L304.8,167.4L305.5,168.4L306.2,169.5L307.0,170.6L307.8,171.6L308.5,172.5L309.2,173.1L310.0,173.5L310.8,173.6L311.5,173.3L312.2,172.7L313.0,171.9L313.8,170.8L314.5,169.7L315.2,168.4L316.0,167.1L316.8,165.8L317.5,164.6L318.2,163.5L319.0,162.6L319.8,161.9L320.5,161.3L321.2,161.0L322.0,160.7L322.8,160.5L323.5,160.3L324.2,160.2L325.0,160.1L325.8,160.0L326.5,159.8L327.2,159.5L328.0,159.3L328.8,159.0L329.5,158.7L330.2,158.4L331.0,158.1L331.8,157.9L332.5,157.7L333.2,157.6L334.0,157.5" stroke="#ED7D31" stroke-width="1.6" fill="none"/>
<path d="M23.5,158.3L24.2,158.3L25.0,158.3L25.8,158.3L26.5,158.3L27.2,158.3L28.0,158.3L28.8,158.3L29.5,158.3L30.2,158.3L31.0,158.3L31.8,158.3L32.5,158.3L33.2,158.3L34.0,158.3L34.8,158.3L35.5,158.4L36.2,158.4L37.0,158.6L37.8,158.7L38.5,159.0L39.2,159.4L40.0,159.9L40.8,160.6L41.5,161.5L42.2,162.6L43.0,164.0L43.8,165.5L44.5,167.1L45.2,168.8L46.0,170.4L46.8,171.8L47.5,173.0L48.2,173.7L49.0,173.9L49.8,173.7L50.5,173.0L51.2,171.8L52.0,170.4L52.8,168.8L53.5,167.1L54.2,165.5L55.0,164.0L55.8,162.6L56.5,161.5L57.2,160.6L58.0,159.9L58.8,159.4L59.5,159.0L60.2,158.7L61.0,158.6L61.8,158.4L62.5,158.4L63.2,158.3L64.0,158.3L64.8,158.3L65.5,158.3L66.2,158.3L67.0,158.3L67.8,158.3L68.5,158.3L69.2,158.3L70.0,158.3L70.8,158.3L71.5,158.3L72.2,158.3L73.0,158.3L73.8,158.3L74.5,158.3L75.2,158.3L76.0,158.3L76.8,158.3L77.5,158.3L78.2,158.3L79.0,158.3L79.8,158.3L80.5,158.3L81.2,158.3L82.0,158.3L82.8,158.3L83.5,158.3L84.2,158.3L85.0,158.3L85.8,158.3L86.5,158.3L87.2,158.3L88.0,158.3L88.8,158.3L89.5,158.4L90.2,158.5L91.0,158.6L91.8,158.7L92.5,159.0L93.2,159.3L94.0,159.7L94.8,160.3L95.5,161.0L96.2,161.8L97.0,162.6L97.8,163.6L98.5,164.5L99.2,165.4L100.0,166.2L100.8,166.7L101.5,167.0L102.2,167.1L103.0,166.9L103.8,166.4L104.5,165.7L105.2,164.8L106.0,163.9L106.8,163.0L107.5,162.0L108.2,161.2L109.0,160.5L109.8,159.9L110.5,159.4L111.2,159.1L112.0,158.8L112.8,158.6L113.5,158.5L114.2,158.4L115.0,158.4L115.8,158.3L116.5,158.3L117.2,158.3L118.0,158.3L118.8,158.3L119.5,158.3L120.2,158.3L121.0,158.3L121.8,158.3L122.5,158.3L123.2,158.3L124.0,158.3L124.8,158.3L125.5,158.3L126.2,158.3L127.0,158.3L127.8,158.3L128.5,158.3L129.2,158.3L130.0,158.3L130.8,158.3L131.5,158.3L132.2,158.3L133.0,158.3L133.8,158.3L134.5,158.3L135.2,158.3L136.0,158.3L136.8,158.3L137.5,158.3L138.2,158.3L139.0,158.3L139.8,158.3L140.5,158.3L141.2,158.3L142.0,158.3L142.8,158.3L143.5,158.3L144.2,158.3L145.0,158.4L145.8,158.4L146.5,158.5L147.2,158.6L148.0,158.7L148.8,158.9L149.5,159.2L150.2,159.5L151.0,159.8L151.8,160.2L152.5,160.6L153.2,161.0L154.0,161.3L154.8,161.6L155.5,161.8L156.2,161.9L157.0,161.9L157.8,161.8L158.5,161.6L159.2,161.3L160.0,160.9L160.8,160.5L161.5,160.1L162.2,159.8L163.0,159.4L163.8,159.1L164.5,158.9L165.2,158.7L166.0,158.6L166.8,158.5L167.5,158.4L168.2,158.4L169.0,158.3L169.8,158.3L170.5,158.3L171.2,158.3L172.0,158.3L172.8,158.3L173.5,158.3L174.2,158.3L175.0,158.3L175.8,158.3L176.5,158.3L177.2,158.3L178.0,158.3L178.8,158.3L179.5,158.3L180.2,158.3L181.0,158.3L181.8,158.3L182.5,158.3L183.2,158.3L184.0,158.3L184.8,158.3L185.5,158.3L186.2,158.3L187.0,158.4L187.8,158.4L188.5,158.5L189.2,158.6L190.0,158.8L190.8,159.0L191.5,159.3L192.2,159.6L193.0,159.9L193.8,160.3L194.5,160.7L195.2,161.1L196.0,161.4L196.8,161.7L197.5,161.9L198.2,161.9L199.0,161.9L199.8,161.7L200.5,161.5L201.2,161.2L202.0,160.8L202.8,160.4L203.5,160.0L204.2,159.6L205.0,159.3L205.8,159.0L206.5,158.8L207.2,158.7L208.0,158.5L208.8,158.4L209.5,158.4L210.2,158.3L211.0,158.3L211.8,158.3L212.5,158.3L213.2,158.3L214.0,158.3L214.8,158.3L215.5,158.3L216.2,158.3L217.0,158.3L217.8,158.3L218.5,158.3L219.2,158.3L220.0,158.3L220.8,158.3L221.5,158.3L222.2,158.3L223.0,158.3L223.8,158.3L224.5,158.3L225.2,158.3L226.0,158.3L226.8,158.3L227.5,158.3L228.2,158.3L229.0,158.3L229.8,158.3L230.5,158.3L231.2,158.3L232.0,158.3L232.8,158.3L233.5,158.3L234.2,158.3L235.0,158.3L235.8,158.3L236.5,158.3L237.2,158.3L238.0,158.3L238.8,158.3L239.5,158.3L240.2,158.4L241.0,158.4L241.8,158.5L242.5,158.7L243.2,158.9L244.0,159.1L244.8,159.5L245.5,160.0L246.2,160.6L247.0,161.4L247.8,162.2L248.5,163.1L249.2,164.1L250.0,165.0L250.8,165.8L251.5,166.5L252.2,166.9L253.0,167.1L253.8,167.0L254.5,166.6L255.2,166.0L256.0,165.2L256.8,164.3L257.5,163.4L258.2,162.5L259.0,161.6L259.8,160.8L260.5,160.2L261.2,159.6L262.0,159.2L262.8,158.9L263.5,158.7L264.2,158.5L265.0,158.4L265.8,158.4L266.5,158.3L267.2,158.3L268.0,158.3L268.8,158.3L269.5,158.3L270.2,158.3L271.0,158.3L271.8,158.3L272.5,158.3L273.2,158.3L274.0,158.3L274.8,158.3L275.5,158.3L276.2,158.3L277.0,158.3L277.8,158.3L278.5,158.3L279.2,158.3L280.0,158.3L280.8,158.3L281.5,158.3L282.2,158.3L283.0,158.3L283.8,158.3L284.5,158.3L285.2,158.3L286.0,158.3L286.8,158.3L287.5,158.3L288.2,158.3L289.0,158.3L289.8,158.3L290.5,158.3L291.2,158.3L292.0,158.3L292.8,158.3L293.5,158.3L294.2,158.3L295.0,158.3L295.8,158.3L296.5,158.3L297.2,158.4L298.0,158.4L298.8,158.6L299.5,158.7L300.2,159.0L301.0,159.4L301.8,159.9L302.5,160.6L303.2,161.6L304.0,162.7L304.8,164.0L305.5,165.6L306.2,167.2L307.0,168.9L307.8,170.5L308.5,171.9L309.2,173.0L310.0,173.7L310.8,173.9L311.5,173.6L312.2,172.9L313.0,171.8L313.8,170.3L314.5,168.7L315.2,167.0L316.0,165.4L316.8,163.9L317.5,162.5L318.2,161.4L319.0,160.5L319.8,159.8L320.5,159.3L321.2,159.0L322.0,158.7L322.8,158.5L323.5,158.4L324.2,158.4L325.0,158.3L325.8,158.3L326.5,158.3L327.2,158.3L328.0,158.3L328.8,158.3L329.5,158.3L330.2,158.3L331.0,158.3L331.8,158.3L332.5,158.3L333.2,158.3L334.0,158.3" stroke="#70AD47" stroke-width="2.0" fill="none"/>
<path d="M23.5,157.4L24.2,157.4L25.0,157.4L25.8,157.4L26.5,157.4L27.2,157.4L28.0,157.4L28.8,157.4L29.5,157.5L30.2,157.5L31.0,157.5L31.8,157.5L32.5,157.5L33.2,157.5L34.0,157.5L34.8,157.5L35.5,157.5L36.2,157.5L37.0,157.6L37.8,157.6L38.5,157.6L39.2,157.6L40.0,157.6L40.8,157.6L41.5,157.6L42.2,157.6L43.0,157.7L43.8,157.7L44.5,157.7L45.2,157.7L46.0,157.7L46.8,157.7L47.5,157.8L48.2,157.8L49.0,157.8L49.8,157.8L50.5,157.8L51.2,157.9L52.0,157.9L52.8,157.9L53.5,157.9L54.2,158.0L55.0,158.0L55.8,158.0L56.5,158.0L57.2,158.1L58.0,158.1L58.8,158.1L59.5,158.2L60.2,158.2L61.0,158.2L61.8,158.3L62.5,158.3L63.2,158.4L64.0,158.4L64.8,158.5L65.5,158.5L66.2,158.6L67.0,158.7L67.8,158.7L68.5,158.8L69.2,158.9L70.0,158.9L70.8,159.0L71.5,159.1L72.2,159.2L73.0,159.3L73.8,159.4L74.5,159.5L75.2,159.7L76.0,159.8L76.8,160.0L77.5,160.1L78.2,160.3L79.0,160.5L79.8,160.7L80.5,161.0L81.2,161.2L82.0,161.5L82.8,161.8L83.5,162.2L84.2,162.6L85.0,163.0L85.8,163.5L86.5,164.1L87.2,164.7L88.0,165.5L88.8,166.3L89.5,167.3L90.2,168.4L91.0,169.6L91.8,171.1L92.5,172.8L93.2,174.8L94.0,177.1L94.8,179.8L95.5,182.8L96.2,186.2L97.0,189.8L97.8,193.5L98.5,197.1L99.2,200.0L100.0,202.0L100.8,202.7L101.5,201.9L102.2,199.9L103.0,196.9L103.8,193.4L104.5,189.7L105.2,186.2L106.0,183.0L106.8,180.1L107.5,177.6L108.2,175.4L109.0,173.6L109.8,172.0L110.5,170.7L111.2,169.6L112.0,168.6L112.8,167.8L113.5,167.2L114.2,166.6L115.0,166.2L115.8,165.8L116.5,165.6L117.2,165.4L118.0,165.3L118.8,165.2L119.5,165.2L120.2,165.3L121.0,165.5L121.8,165.7L122.5,166.1L123.2,166.5L124.0,167.1L124.8,167.7L125.5,168.6L126.2,169.6L127.0,170.7L127.8,172.1L128.5,173.7L129.2,175.6L130.0,177.7L130.8,180.0L131.5,182.4L132.2,184.6L133.0,186.6L133.8,187.8L134.5,188.3L135.2,187.8L136.0,186.4L136.8,184.4L137.5,182.1L138.2,179.7L139.0,177.3L139.8,175.1L140.5,173.2L141.2,171.5L142.0,170.0L142.8,168.7L143.5,167.6L144.2,166.7L145.0,165.9L145.8,165.2L146.5,164.7L147.2,164.2L148.0,163.8L148.8,163.4L149.5,163.1L150.2,162.9L151.0,162.7L151.8,162.6L152.5,162.4L153.2,162.4L154.0,162.3L154.8,162.4L155.5,162.4L156.2,162.5L157.0,162.6L157.8,162.8L158.5,163.0L159.2,163.3L160.0,163.7L160.8,164.1L161.5,164.7L162.2,165.3L163.0,166.1L163.8,166.9L164.5,167.9L165.2,169.0L166.0,170.2L166.8,171.3L167.5,172.3L168.2,173.1L169.0,173.4L169.8,173.3L170.5,172.8L171.2,171.9L172.0,170.9L172.8,169.7L173.5,168.6L174.2,167.6L175.0,166.7L175.8,165.9L176.5,165.2L177.2,164.6L178.0,164.2L178.8,163.8L179.5,163.6L180.2,163.4L181.0,163.2L181.8,163.2L182.5,163.2L183.2,163.3L184.0,163.4L184.8,163.6L185.5,163.9L186.2,164.3L187.0,164.7L187.8,165.3L188.5,166.0L189.2,166.8L190.0,167.8L190.8,168.8L191.5,169.9L192.2,171.1L193.0,172.1L193.8,172.9L194.5,173.3L195.2,173.3L196.0,172.9L196.8,172.1L197.5,171.1L198.2,169.9L199.0,168.8L199.8,167.7L200.5,166.7L201.2,165.9L202.0,165.1L202.8,164.5L203.5,164.0L204.2,163.6L205.0,163.2L205.8,162.9L206.5,162.7L207.2,162.5L208.0,162.4L208.8,162.3L209.5,162.3L210.2,162.3L211.0,162.3L211.8,162.4L212.5,162.5L213.2,162.6L214.0,162.8L214.8,163.0L215.5,163.3L216.2,163.7L217.0,164.1L217.8,164.6L218.5,165.1L219.2,165.8L220.0,166.6L220.8,167.5L221.5,168.5L222.2,169.8L223.0,171.3L223.8,172.9L224.5,174.9L225.2,177.0L226.0,179.4L226.8,181.8L227.5,184.2L228.2,186.2L229.0,187.6L229.8,188.1L230.5,187.7L231.2,186.5L232.0,184.6L232.8,182.3L233.5,180.0L234.2,177.6L235.0,175.5L235.8,173.6L236.5,171.9L237.2,170.5L238.0,169.3L238.8,168.3L239.5,167.4L240.2,166.7L241.0,166.1L241.8,165.6L242.5,165.2L243.2,164.9L244.0,164.7L244.8,164.5L245.5,164.4L246.2,164.4L247.0,164.4L247.8,164.4L248.5,164.6L249.2,164.8L250.0,165.0L250.8,165.3L251.5,165.7L252.2,166.2L253.0,166.8L253.8,167.5L254.5,168.3L255.2,169.3L256.0,170.4L256.8,171.8L257.5,173.4L258.2,175.2L259.0,177.4L259.8,179.9L260.5,182.8L261.2,186.1L262.0,189.6L262.8,193.2L263.5,196.7L264.2,199.7L265.0,201.8L265.8,202.6L266.5,201.9L267.2,199.9L268.0,197.0L268.8,193.4L269.5,189.7L270.2,186.1L271.0,182.7L271.8,179.7L272.5,177.1L273.2,174.8L274.0,172.8L274.8,171.1L275.5,169.6L276.2,168.3L277.0,167.2L277.8,166.3L278.5,165.4L279.2,164.7L280.0,164.1L280.8,163.5L281.5,163.0L282.2,162.5L283.0,162.2L283.8,161.8L284.5,161.5L285.2,161.2L286.0,160.9L286.8,160.7L287.5,160.5L288.2,160.3L289.0,160.1L289.8,159.9L290.5,159.8L291.2,159.6L292.0,159.5L292.8,159.4L293.5,159.3L294.2,159.2L295.0,159.1L295.8,159.0L296.5,158.9L297.2,158.8L298.0,158.8L298.8,158.7L299.5,158.6L300.2,158.6L301.0,158.5L301.8,158.5L302.5,158.4L303.2,158.4L304.0,158.3L304.8,158.3L305.5,158.2L306.2,158.2L307.0,158.2L307.8,158.1L308.5,158.1L309.2,158.1L310.0,158.0L310.8,158.0L311.5,158.0L312.2,157.9L313.0,157.9L313.8,157.9L314.5,157.9L315.2,157.8L316.0,157.8L316.8,157.8L317.5,157.8L318.2,157.8L319.0,157.7L319.8,157.7L320.5,157.7L321.2,157.7L322.0,157.7L322.8,157.7L323.5,157.6L324.2,157.6L325.0,157.6L325.8,157.6L326.5,157.6L327.2,157.6L328.0,157.6L328.8,157.6L329.5,157.5L330.2,157.5L331.0,157.5L331.8,157.5L332.5,157.5L333.2,157.5L334.0,157.5" stroke="#FFC000" stroke-width="2.2" fill="none"/>
<path d="M23.5,155.9L24.2,155.9L25.0,155.9L25.8,155.9L26.5,155.9L27.2,155.9L28.0,155.9L28.8,155.9L29.5,155.9L30.2,155.9L31.0,155.9L31.8,156.0L32.5,156.0L33.2,156.0L34.0,156.0L34.8,156.0L35.5,156.0L36.2,156.0L37.0,156.0L37.8,156.0L38.5,156.0L39.2,156.0L40.0,156.0L40.8,156.0L41.5,156.0L42.2,156.0L43.0,156.0L43.8,156.0L44.5,156.0L45.2,156.0L46.0,156.0L46.8,156.0L47.5,156.0L48.2,156.0L49.0,156.0L49.8,156.0L50.5,156.0L51.2,156.0L52.0,156.0L52.8,156.1L53.5,156.1L54.2,156.1L55.0,156.1L55.8,156.1L56.5,156.1L57.2,156.1L58.0,156.1L58.8,156.1L59.5,156.1L60.2,156.1L61.0,156.1L61.8,156.1L62.5,156.1L63.2,156.1L64.0,156.1L64.8,156.1L65.5,156.1L66.2,156.1L67.0,156.2L67.8,156.2L68.5,156.2L69.2,156.2L70.0,156.2L70.8,156.2L71.5,156.2L72.2,156.2L73.0,156.2L73.8,156.2L74.5,156.2L75.2,156.2L76.0,156.2L76.8,156.2L77.5,156.3L78.2,156.3L79.0,156.3L79.8,156.3L80.5,156.3L81.2,156.3L82.0,156.3L82.8,156.3L83.5,156.3L84.2,156.3L85.0,156.4L85.8,156.4L86.5,156.4L87.2,156.4L88.0,156.4L88.8,156.4L89.5,156.4L90.2,156.4L91.0,156.4L91.8,156.5L92.5,156.5L93.2,156.5L94.0,156.5L94.8,156.5L95.5,156.5L96.2,156.5L97.0,156.6L97.8,156.6L98.5,156.6L99.2,156.6L100.0,156.6L100.8,156.6L101.5,156.7L102.2,156.7L103.0,156.7L103.8,156.7L104.5,156.7L105.2,156.8L106.0,156.8L106.8,156.8L107.5,156.8L108.2,156.8L109.0,156.9L109.8,156.9L110.5,156.9L111.2,156.9L112.0,157.0L112.8,157.0L113.5,157.0L114.2,157.0L115.0,157.1L115.8,157.1L116.5,157.1L117.2,157.2L118.0,157.2L118.8,157.2L119.5,157.3L120.2,157.3L121.0,157.4L121.8,157.4L122.5,157.4L123.2,157.5L124.0,157.5L124.8,157.6L125.5,157.6L126.2,157.7L127.0,157.7L127.8,157.8L128.5,157.8L129.2,157.9L130.0,158.0L130.8,158.0L131.5,158.1L132.2,158.2L133.0,158.2L133.8,158.3L134.5,158.4L135.2,158.5L136.0,158.6L136.8,158.7L137.5,158.8L138.2,158.9L139.0,159.0L139.8,159.1L140.5,159.2L141.2,159.3L142.0,159.5L142.8,159.6L143.5,159.7L144.2,159.9L145.0,160.1L145.8,160.2L146.5,160.4L147.2,160.6L148.0,160.8L148.8,161.0L149.5,161.3L150.2,161.5L151.0,161.8L151.8,162.1L152.5,162.4L153.2,162.7L154.0,163.0L154.8,163.4L155.5,163.8L156.2,164.2L157.0,164.7L157.8,165.2L158.5,165.8L159.2,166.4L160.0,167.0L160.8,167.7L161.5,168.5L162.2,169.4L163.0,170.3L163.8,171.3L164.5,172.5L165.2,173.7L166.0,175.1L166.8,176.7L167.5,178.4L168.2,180.4L169.0,182.6L169.8,185.0L170.5,187.7L171.2,190.8L172.0,194.3L172.8,198.1L173.5,202.4L174.2,207.2L175.0,212.3L175.8,217.9L176.5,223.9L177.2,230.0L178.0,236.3L178.8,242.6L179.5,248.7L180.2,254.0L181.0,257.9L181.8,259.6L182.5,259.5L183.2,258.9L184.0,258.5L184.8,258.5L185.5,258.9L186.2,259.5L187.0,259.9L187.8,259.1L188.5,255.9L189.2,250.1L190.0,242.9L190.8,235.4L191.5,228.2L192.2,221.4L193.0,215.2L193.8,209.5L194.5,204.4L195.2,199.8L196.0,195.7L196.8,192.0L197.5,188.8L198.2,185.9L199.0,183.4L199.8,181.1L200.5,179.1L201.2,177.3L202.0,175.6L202.8,174.2L203.5,172.9L204.2,171.7L205.0,170.6L205.8,169.7L206.5,168.8L207.2,168.0L208.0,167.2L208.8,166.6L209.5,166.0L210.2,165.4L211.0,164.9L211.8,164.4L212.5,164.0L213.2,163.5L214.0,163.2L214.8,162.8L215.5,162.5L216.2,162.2L217.0,161.9L217.8,161.6L218.5,161.4L219.2,161.1L220.0,160.9L220.8,160.7L221.5,160.5L222.2,160.3L223.0,160.1L223.8,160.0L224.5,159.8L225.2,159.7L226.0,159.5L226.8,159.4L227.5,159.3L228.2,159.1L229.0,159.0L229.8,158.9L230.5,158.8L231.2,158.7L232.0,158.6L232.8,158.5L233.5,158.4L234.2,158.4L235.0,158.3L235.8,158.2L236.5,158.1L237.2,158.1L238.0,158.0L238.8,157.9L239.5,157.9L240.2,157.8L241.0,157.8L241.8,157.7L242.5,157.6L243.2,157.6L244.0,157.6L244.8,157.5L245.5,157.5L246.2,157.4L247.0,157.4L247.8,157.3L248.5,157.3L249.2,157.3L250.0,157.2L250.8,157.2L251.5,157.2L252.2,157.1L253.0,157.1L253.8,157.1L254.5,157.0L255.2,157.0L256.0,157.0L256.8,156.9L257.5,156.9L258.2,156.9L259.0,156.9L259.8,156.8L260.5,156.8L261.2,156.8L262.0,156.8L262.8,156.8L263.5,156.7L264.2,156.7L265.0,156.7L265.8,156.7L266.5,156.7L267.2,156.6L268.0,156.6L268.8,156.6L269.5,156.6L270.2,156.6L271.0,156.6L271.8,156.5L272.5,156.5L273.2,156.5L274.0,156.5L274.8,156.5L275.5,156.5L276.2,156.5L277.0,156.4L277.8,156.4L278.5,156.4L279.2,156.4L280.0,156.4L280.8,156.4L281.5,156.4L282.2,156.4L283.0,156.4L283.8,156.3L284.5,156.3L285.2,156.3L286.0,156.3L286.8,156.3L287.5,156.3L288.2,156.3L289.0,156.3L289.8,156.3L290.5,156.3L291.2,156.3L292.0,156.2L292.8,156.2L293.5,156.2L294.2,156.2L295.0,156.2L295.8,156.2L296.5,156.2L297.2,156.2L298.0,156.2L298.8,156.2L299.5,156.2L300.2,156.2L301.0,156.2L301.8,156.2L302.5,156.1L303.2,156.1L304.0,156.1L304.8,156.1L305.5,156.1L306.2,156.1L307.0,156.1L307.8,156.1L308.5,156.1L309.2,156.1L310.0,156.1L310.8,156.1L311.5,156.1L312.2,156.1L313.0,156.1L313.8,156.1L314.5,156.1L315.2,156.1L316.0,156.1L316.8,156.0L317.5,156.0L318.2,156.0L319.0,156.0L319.8,156.0L320.5,156.0L321.2,156.0L322.0,156.0L322.8,156.0L323.5,156.0L324.2,156.0L325.0,156.0L325.8,156.0L326.5,156.0L327.2,156.0L328.0,156.0L328.8,156.0L329.5,156.0L330.2,156.0L331.0,156.0L331.8,156.0L332.5,156.0L333.2,156.0L334.0,156.0" stroke="#FF0000" stroke-width="2.3" fill="none"/>
<g fill="#000"><circle cx="23.5" cy="160.0" r="1.45"/><circle cx="24.7" cy="157.8" r="1.45"/><circle cx="25.9" cy="161.0" r="1.45"/><circle cx="27.2" cy="162.8" r="1.45"/><circle cx="28.4" cy="161.3" r="1.45"/><circle cx="29.6" cy="159.6" r="1.45"/><circle cx="30.8" cy="164.2" r="1.45"/><circle cx="32.0" cy="158.5" r="1.45"/><circle cx="33.2" cy="162.4" r="1.45"/><circle cx="34.5" cy="161.5" r="1.45"/><circle cx="35.7" cy="159.3" r="1.45"/><circle cx="36.9" cy="164.7" r="1.45"/><circle cx="38.1" cy="163.4" r="1.45"/><circle cx="39.3" cy="160.8" r="1.45"/><circle cx="40.5" cy="165.3" r="1.45"/><circle cx="41.8" cy="164.1" r="1.45"/><circle cx="43.0" cy="162.3" r="1.45"/><circle cx="44.2" cy="166.3" r="1.45"/><circle cx="45.4" cy="170.1" r="1.45"/><circle cx="46.6" cy="173.0" r="1.45"/><circle cx="47.9" cy="174.0" r="1.45"/><circle cx="49.1" cy="174.8" r="1.45"/><circle cx="50.3" cy="175.2" r="1.45"/><circle cx="51.5" cy="172.2" r="1.45"/><circle cx="52.7" cy="172.9" r="1.45"/><circle cx="53.9" cy="168.4" r="1.45"/><circle cx="55.2" cy="166.8" r="1.45"/><circle cx="56.4" cy="165.9" r="1.45"/><circle cx="57.6" cy="161.4" r="1.45"/><circle cx="58.8" cy="161.2" r="1.45"/><circle cx="60.0" cy="165.3" r="1.45"/><circle cx="61.2" cy="162.3" r="1.45"/><circle cx="62.5" cy="160.6" r="1.45"/><circle cx="63.7" cy="161.6" r="1.45"/><circle cx="64.9" cy="159.7" r="1.45"/><circle cx="66.1" cy="161.2" r="1.45"/><circle cx="67.3" cy="159.3" r="1.45"/><circle cx="68.6" cy="161.3" r="1.45"/><circle cx="69.8" cy="157.6" r="1.45"/><circle cx="71.0" cy="163.9" r="1.45"/><circle cx="72.2" cy="160.2" r="1.45"/><circle cx="73.4" cy="158.2" r="1.45"/><circle cx="74.6" cy="161.4" r="1.45"/><circle cx="75.9" cy="161.3" r="1.45"/><circle cx="77.1" cy="162.7" r="1.45"/><circle cx="78.3" cy="160.2" r="1.45"/><circle cx="79.5" cy="163.7" r="1.45"/><circle cx="80.7" cy="170.6" r="1.45"/><circle cx="81.9" cy="160.6" r="1.45"/><circle cx="83.2" cy="164.5" r="1.45"/><circle cx="84.4" cy="164.1" r="1.45"/><circle cx="85.6" cy="166.8" r="1.45"/><circle cx="86.8" cy="165.0" r="1.45"/><circle cx="88.0" cy="169.7" r="1.45"/><circle cx="89.3" cy="177.0" r="1.45"/><circle cx="90.5" cy="180.5" r="1.45"/><circle cx="91.7" cy="188.9" r="1.45"/><circle cx="92.9" cy="189.2" r="1.45"/><circle cx="94.1" cy="196.3" r="1.45"/><circle cx="95.3" cy="207.3" r="1.45"/><circle cx="96.6" cy="204.4" r="1.45"/><circle cx="97.8" cy="208.0" r="1.45"/><circle cx="99.0" cy="212.7" r="1.45"/><circle cx="100.2" cy="213.8" r="1.45"/><circle cx="101.4" cy="214.9" r="1.45"/><circle cx="102.6" cy="210.8" r="1.45"/><circle cx="103.9" cy="204.9" r="1.45"/><circle cx="105.1" cy="201.9" r="1.45"/><circle cx="106.3" cy="201.5" r="1.45"/><circle cx="107.5" cy="193.1" r="1.45"/><circle cx="108.7" cy="179.3" r="1.45"/><circle cx="110.0" cy="180.3" r="1.45"/><circle cx="111.2" cy="175.1" r="1.45"/><circle cx="112.4" cy="175.4" r="1.45"/><circle cx="113.6" cy="171.6" r="1.45"/><circle cx="114.8" cy="174.6" r="1.45"/><circle cx="116.0" cy="171.7" r="1.45"/><circle cx="117.3" cy="171.4" r="1.45"/><circle cx="118.5" cy="170.1" r="1.45"/><circle cx="119.7" cy="170.2" r="1.45"/><circle cx="120.9" cy="171.9" r="1.45"/><circle cx="122.1" cy="175.1" r="1.45"/><circle cx="123.3" cy="174.8" r="1.45"/><circle cx="124.6" cy="174.5" r="1.45"/><circle cx="125.8" cy="179.5" r="1.45"/><circle cx="127.0" cy="179.0" r="1.45"/><circle cx="128.2" cy="180.7" r="1.45"/><circle cx="129.4" cy="182.0" r="1.45"/><circle cx="130.7" cy="186.0" r="1.45"/><circle cx="131.9" cy="189.7" r="1.45"/><circle cx="133.1" cy="188.4" r="1.45"/><circle cx="134.3" cy="198.3" r="1.45"/><circle cx="135.5" cy="197.2" r="1.45"/><circle cx="136.7" cy="193.8" r="1.45"/><circle cx="138.0" cy="193.6" r="1.45"/><circle cx="139.2" cy="189.2" r="1.45"/><circle cx="140.4" cy="186.0" r="1.45"/><circle cx="141.6" cy="177.1" r="1.45"/><circle cx="142.8" cy="179.1" r="1.45"/><circle cx="144.0" cy="178.3" r="1.45"/><circle cx="145.3" cy="178.6" r="1.45"/><circle cx="146.5" cy="177.5" r="1.45"/><circle cx="147.7" cy="175.7" r="1.45"/><circle cx="148.9" cy="169.7" r="1.45"/><circle cx="150.1" cy="167.4" r="1.45"/><circle cx="151.4" cy="173.4" r="1.45"/><circle cx="152.6" cy="172.9" r="1.45"/><circle cx="153.8" cy="175.6" r="1.45"/><circle cx="155.0" cy="174.4" r="1.45"/><circle cx="156.2" cy="176.4" r="1.45"/><circle cx="157.4" cy="174.1" r="1.45"/><circle cx="158.7" cy="179.7" r="1.45"/><circle cx="159.9" cy="179.3" r="1.45"/><circle cx="161.1" cy="182.5" r="1.45"/><circle cx="162.3" cy="184.5" r="1.45"/><circle cx="163.5" cy="185.3" r="1.45"/><circle cx="164.7" cy="188.8" r="1.45"/><circle cx="166.0" cy="191.3" r="1.45"/><circle cx="167.2" cy="196.9" r="1.45"/><circle cx="168.4" cy="201.1" r="1.45"/><circle cx="169.6" cy="203.7" r="1.45"/><circle cx="170.8" cy="207.8" r="1.45"/><circle cx="172.1" cy="217.5" r="1.45"/><circle cx="173.3" cy="220.4" r="1.45"/><circle cx="174.5" cy="231.5" r="1.45"/><circle cx="175.7" cy="240.1" r="1.45"/><circle cx="176.9" cy="247.1" r="1.45"/><circle cx="178.1" cy="255.1" r="1.45"/><circle cx="179.4" cy="263.7" r="1.45"/><circle cx="180.6" cy="267.9" r="1.45"/><circle cx="181.8" cy="270.4" r="1.45"/><circle cx="183.0" cy="267.7" r="1.45"/><circle cx="184.2" cy="271.0" r="1.45"/><circle cx="185.4" cy="274.4" r="1.45"/><circle cx="186.7" cy="279.8" r="1.45"/><circle cx="187.9" cy="271.6" r="1.45"/><circle cx="189.1" cy="274.0" r="1.45"/><circle cx="190.3" cy="263.1" r="1.45"/><circle cx="191.5" cy="252.4" r="1.45"/><circle cx="192.8" cy="238.1" r="1.45"/><circle cx="194.0" cy="230.5" r="1.45"/><circle cx="195.2" cy="225.2" r="1.45"/><circle cx="196.4" cy="215.3" r="1.45"/><circle cx="197.6" cy="208.7" r="1.45"/><circle cx="198.8" cy="202.4" r="1.45"/><circle cx="200.1" cy="194.4" r="1.45"/><circle cx="201.3" cy="192.2" r="1.45"/><circle cx="202.5" cy="186.2" r="1.45"/><circle cx="203.7" cy="181.1" r="1.45"/><circle cx="204.9" cy="179.5" r="1.45"/><circle cx="206.1" cy="176.4" r="1.45"/><circle cx="207.4" cy="176.4" r="1.45"/><circle cx="208.6" cy="173.1" r="1.45"/><circle cx="209.8" cy="171.0" r="1.45"/><circle cx="211.0" cy="174.6" r="1.45"/><circle cx="212.2" cy="173.5" r="1.45"/><circle cx="213.5" cy="174.4" r="1.45"/><circle cx="214.7" cy="173.5" r="1.45"/><circle cx="215.9" cy="172.9" r="1.45"/><circle cx="217.1" cy="173.4" r="1.45"/><circle cx="218.3" cy="174.9" r="1.45"/><circle cx="219.5" cy="178.9" r="1.45"/><circle cx="220.8" cy="178.7" r="1.45"/><circle cx="222.0" cy="176.9" r="1.45"/><circle cx="223.2" cy="182.0" r="1.45"/><circle cx="224.4" cy="182.6" r="1.45"/><circle cx="225.6" cy="191.2" r="1.45"/><circle cx="226.8" cy="193.3" r="1.45"/><circle cx="228.1" cy="196.0" r="1.45"/><circle cx="229.3" cy="199.6" r="1.45"/><circle cx="230.5" cy="198.0" r="1.45"/><circle cx="231.7" cy="192.0" r="1.45"/><circle cx="232.9" cy="193.6" r="1.45"/><circle cx="234.2" cy="192.5" r="1.45"/><circle cx="235.4" cy="180.8" r="1.45"/><circle cx="236.6" cy="184.0" r="1.45"/><circle cx="237.8" cy="175.7" r="1.45"/><circle cx="239.0" cy="173.8" r="1.45"/><circle cx="240.2" cy="172.8" r="1.45"/><circle cx="241.5" cy="169.3" r="1.45"/><circle cx="242.7" cy="174.8" r="1.45"/><circle cx="243.9" cy="173.3" r="1.45"/><circle cx="245.1" cy="171.3" r="1.45"/><circle cx="246.3" cy="173.2" r="1.45"/><circle cx="247.5" cy="171.8" r="1.45"/><circle cx="248.8" cy="175.5" r="1.45"/><circle cx="250.0" cy="179.5" r="1.45"/><circle cx="251.2" cy="175.4" r="1.45"/><circle cx="252.4" cy="179.6" r="1.45"/><circle cx="253.6" cy="182.5" r="1.45"/><circle cx="254.9" cy="186.2" r="1.45"/><circle cx="256.1" cy="188.9" r="1.45"/><circle cx="257.3" cy="187.4" r="1.45"/><circle cx="258.5" cy="189.3" r="1.45"/><circle cx="259.7" cy="194.5" r="1.45"/><circle cx="260.9" cy="195.8" r="1.45"/><circle cx="262.2" cy="198.8" r="1.45"/><circle cx="263.4" cy="204.2" r="1.45"/><circle cx="264.6" cy="207.0" r="1.45"/><circle cx="265.8" cy="204.3" r="1.45"/><circle cx="267.0" cy="201.9" r="1.45"/><circle cx="268.2" cy="200.3" r="1.45"/><circle cx="269.5" cy="190.5" r="1.45"/><circle cx="270.7" cy="188.8" r="1.45"/><circle cx="271.9" cy="180.9" r="1.45"/><circle cx="273.1" cy="183.1" r="1.45"/><circle cx="274.3" cy="175.8" r="1.45"/><circle cx="275.6" cy="172.1" r="1.45"/><circle cx="276.8" cy="169.7" r="1.45"/><circle cx="278.0" cy="163.5" r="1.45"/><circle cx="279.2" cy="169.2" r="1.45"/><circle cx="280.4" cy="170.3" r="1.45"/><circle cx="281.6" cy="164.7" r="1.45"/><circle cx="282.9" cy="167.1" r="1.45"/><circle cx="284.1" cy="166.7" r="1.45"/><circle cx="285.3" cy="161.6" r="1.45"/><circle cx="286.5" cy="166.5" r="1.45"/><circle cx="287.7" cy="167.0" r="1.45"/><circle cx="288.9" cy="164.3" r="1.45"/><circle cx="290.2" cy="163.3" r="1.45"/><circle cx="291.4" cy="164.7" r="1.45"/><circle cx="292.6" cy="159.5" r="1.45"/><circle cx="293.8" cy="162.7" r="1.45"/><circle cx="295.0" cy="164.5" r="1.45"/><circle cx="296.3" cy="159.6" r="1.45"/><circle cx="297.5" cy="164.4" r="1.45"/><circle cx="298.7" cy="161.7" r="1.45"/><circle cx="299.9" cy="158.6" r="1.45"/><circle cx="301.1" cy="163.5" r="1.45"/><circle cx="302.3" cy="162.6" r="1.45"/><circle cx="303.6" cy="166.5" r="1.45"/><circle cx="304.8" cy="164.9" r="1.45"/><circle cx="306.0" cy="171.4" r="1.45"/><circle cx="307.2" cy="169.4" r="1.45"/><circle cx="308.4" cy="173.1" r="1.45"/><circle cx="309.6" cy="172.1" r="1.45"/><circle cx="310.9" cy="172.9" r="1.45"/><circle cx="312.1" cy="175.4" r="1.45"/><circle cx="313.3" cy="171.9" r="1.45"/><circle cx="314.5" cy="168.8" r="1.45"/><circle cx="315.7" cy="164.9" r="1.45"/><circle cx="317.0" cy="167.9" r="1.45"/><circle cx="318.2" cy="165.1" r="1.45"/><circle cx="319.4" cy="161.5" r="1.45"/><circle cx="320.6" cy="161.8" r="1.45"/><circle cx="321.8" cy="158.6" r="1.45"/><circle cx="323.0" cy="158.3" r="1.45"/><circle cx="324.3" cy="158.5" r="1.45"/><circle cx="325.5" cy="160.8" r="1.45"/><circle cx="326.7" cy="160.3" r="1.45"/><circle cx="327.9" cy="157.7" r="1.45"/><circle cx="329.1" cy="160.4" r="1.45"/><circle cx="330.3" cy="160.0" r="1.45"/><circle cx="331.6" cy="158.3" r="1.45"/><circle cx="332.8" cy="159.8" r="1.45"/><circle cx="334.0" cy="156.9" r="1.45"/></g>
<path d="M23.5,306.3L24.2,306.2L25.0,306.1L25.8,306.1L26.5,306.2L27.2,306.3L28.0,306.4L28.8,306.6L29.5,306.9L30.2,307.1L31.0,307.4L31.8,307.7L32.5,308.1L33.2,308.5L34.0,308.8L34.8,309.2L35.5,309.6L36.2,310.1L37.0,310.5L37.8,310.9L38.5,311.3L39.2,311.7L40.0,312.0L40.8,312.4L41.5,312.7L42.2,313.0L43.0,313.3L43.8,313.5L44.5,313.7L45.2,313.9L46.0,314.0L46.8,314.1L47.5,314.1L48.2,314.0L49.0,313.9L49.8,313.7L50.5,313.5L51.2,313.2L52.0,312.9L52.8,312.5L53.5,312.2L54.2,311.8L55.0,311.4L55.8,311.0L56.5,310.6L57.2,310.3L58.0,310.0L58.8,309.8L59.5,309.6L60.2,309.5L61.0,309.5L61.8,309.5L62.5,309.7L63.2,309.9L64.0,310.1L64.8,310.4L65.5,310.7L66.2,311.0L67.0,311.3L67.8,311.6L68.5,311.8L69.2,312.0L70.0,312.2L70.8,312.3L71.5,312.4L72.2,312.5L73.0,312.6L73.8,312.8L74.5,312.9L75.2,313.1L76.0,313.4L76.8,313.7L77.5,314.0L78.2,314.5L79.0,315.0L79.8,315.6L80.5,316.3L81.2,317.2L82.0,318.1L82.8,319.2L83.5,320.5L84.2,321.9L85.0,323.4L85.8,325.0L86.5,326.8L87.2,328.7L88.0,330.8L88.8,333.0L89.5,335.3L90.2,337.7L91.0,340.3L91.8,343.0L92.5,345.9L93.2,348.8L94.0,351.9L94.8,355.1L95.5,358.4L96.2,361.9L97.0,365.4L97.8,369.0L98.5,372.6L99.2,376.3L100.0,379.7L100.8,382.6L101.5,384.7L102.2,385.5L103.0,385.0L103.8,383.2L104.5,380.6L105.2,377.5L106.0,374.2L106.8,371.0L107.5,367.7L108.2,364.5L109.0,361.4L109.8,358.4L110.5,355.5L111.2,352.8L112.0,350.3L112.8,348.0L113.5,346.0L114.2,344.1L115.0,342.3L115.8,340.7L116.5,339.2L117.2,337.9L118.0,336.8L118.8,335.9L119.5,335.2L120.2,334.7L121.0,334.4L121.8,334.4L122.5,334.6L123.2,335.1L124.0,335.8L124.8,336.9L125.5,338.2L126.2,339.9L127.0,341.8L127.8,344.0L128.5,346.4L129.2,349.0L130.0,351.7L130.8,354.6L131.5,357.5L132.2,360.5L133.0,363.6L133.8,366.6L134.5,369.6L135.2,372.6L136.0,375.5L136.8,378.2L137.5,380.9L138.2,383.3L139.0,385.5L139.8,387.3L140.5,388.4L141.2,388.5L142.0,387.4L142.8,384.8L143.5,380.7L144.2,375.8L145.0,370.8L145.8,366.5L146.5,363.3L147.2,360.9L148.0,359.1L148.8,357.4L149.5,355.6L150.2,353.4L151.0,350.9L151.8,348.5L152.5,346.6L153.2,345.2L154.0,344.4L154.8,343.9L155.5,343.9L156.2,344.2L157.0,344.8L157.8,345.7L158.5,346.7L159.2,347.9L160.0,349.3L160.8,350.7L161.5,352.1L162.2,353.8L163.0,355.6L163.8,357.8L164.5,360.5L165.2,365.0L166.0,372.7L166.8,380.6L167.5,384.9L168.2,388.1L169.0,393.1L169.8,399.2L170.5,405.5L171.2,410.8L172.0,414.7L172.8,417.8L173.5,420.5L174.2,422.8L175.0,424.5L175.8,425.5L176.5,425.8L177.2,425.3L178.0,423.9L178.8,421.4L179.5,417.9L180.2,413.6L181.0,408.8L181.8,404.1L182.5,399.7L183.2,396.2L184.0,393.8L184.8,392.9L185.5,393.9L186.2,396.1L187.0,399.3L187.8,403.0L188.5,406.8L189.2,410.2L190.0,413.2L190.8,415.8L191.5,418.1L192.2,420.1L193.0,421.9L193.8,423.3L194.5,424.0L195.2,423.1L196.0,420.4L196.8,416.0L197.5,408.7L198.2,394.2L199.0,381.4L199.8,375.2L200.5,371.5L201.2,368.0L202.0,364.2L202.8,360.3L203.5,356.4L204.2,352.8L205.0,349.5L205.8,346.7L206.5,344.3L207.2,342.4L208.0,340.9L208.8,339.8L209.5,339.1L210.2,338.7L211.0,338.6L211.8,338.7L212.5,339.1L213.2,339.7L214.0,340.6L214.8,341.7L215.5,343.0L216.2,344.5L217.0,346.4L217.8,348.4L218.5,350.7L219.2,353.3L220.0,356.2L220.8,359.3L221.5,362.7L222.2,366.4L223.0,370.4L223.8,374.5L224.5,378.6L225.2,382.8L226.0,386.8L226.8,390.6L227.5,394.0L228.2,396.5L229.0,397.1L229.8,395.7L230.5,392.8L231.2,388.6L232.0,383.7L232.8,378.4L233.5,373.2L234.2,368.3L235.0,363.8L235.8,359.8L236.5,356.1L237.2,352.8L238.0,349.8L238.8,347.2L239.5,344.9L240.2,342.9L241.0,341.3L241.8,339.9L242.5,338.9L243.2,338.1L244.0,337.6L244.8,337.4L245.5,337.5L246.2,337.8L247.0,338.3L247.8,339.1L248.5,340.1L249.2,341.3L250.0,342.8L250.8,344.4L251.5,346.2L252.2,348.2L253.0,350.4L253.8,352.7L254.5,355.2L255.2,357.9L256.0,360.6L256.8,363.5L257.5,366.5L258.2,369.5L259.0,372.3L259.8,375.0L260.5,377.3L261.2,379.2L262.0,380.6L262.8,381.4L263.5,381.5L264.2,380.8L265.0,379.5L265.8,377.5L266.5,374.9L267.2,372.0L268.0,369.0L268.8,366.1L269.5,363.6L270.2,361.0L271.0,357.8L271.8,353.6L272.5,348.3L273.2,342.7L274.0,337.8L274.8,333.7L275.5,330.3L276.2,327.6L277.0,325.5L277.8,323.8L278.5,322.5L279.2,321.5L280.0,320.6L280.8,319.9L281.5,319.2L282.2,318.6L283.0,318.0L283.8,317.5L284.5,317.1L285.2,316.7L286.0,316.4L286.8,316.1L287.5,315.9L288.2,315.7L289.0,315.5L289.8,315.4L290.5,315.3L291.2,315.3L292.0,315.2L292.8,315.2L293.5,315.2L294.2,315.2L295.0,315.3L295.8,315.3L296.5,315.3L297.2,315.3L298.0,315.3L298.8,315.3L299.5,315.3L300.2,315.3L301.0,315.3L301.8,315.2L302.5,315.1L303.2,315.0L304.0,314.9L304.8,314.8L305.5,314.6L306.2,314.5L307.0,314.3L307.8,314.1L308.5,313.9L309.2,313.7L310.0,313.5L310.8,313.3L311.5,313.1L312.2,312.8L313.0,312.6L313.8,312.3L314.5,312.0L315.2,311.8L316.0,311.5L316.8,311.2L317.5,310.9L318.2,310.7L319.0,310.4L319.8,310.1L320.5,309.8L321.2,309.5L322.0,309.3L322.8,309.0L323.5,308.7L324.2,308.4L325.0,308.2L325.8,307.9L326.5,307.6L327.2,307.4L328.0,307.2L328.8,306.9L329.5,306.7L330.2,306.5L331.0,306.3L331.8,306.1L332.5,305.9L333.2,305.7L334.0,305.6" stroke="#ED7D31" stroke-width="1.6" fill="none"/>
<path d="M23.5,302.5L24.2,302.5L25.0,302.5L25.8,302.5L26.5,302.5L27.2,302.5L28.0,302.5L28.8,302.5L29.5,302.5L30.2,302.5L31.0,302.5L31.8,302.5L32.5,302.5L33.2,302.5L34.0,302.5L34.8,302.5L35.5,302.5L36.2,302.5L37.0,302.5L37.8,302.5L38.5,302.5L39.2,302.5L40.0,302.5L40.8,302.5L41.5,302.5L42.2,302.5L43.0,302.5L43.8,302.5L44.5,302.5L45.2,302.5L46.0,302.5L46.8,302.5L47.5,302.5L48.2,302.5L49.0,302.5L49.8,302.6L50.5,302.6L51.2,302.6L52.0,302.6L52.8,302.6L53.5,302.6L54.2,302.6L55.0,302.6L55.8,302.6L56.5,302.6L57.2,302.6L58.0,302.6L58.8,302.6L59.5,302.6L60.2,302.6L61.0,302.6L61.8,302.6L62.5,302.6L63.2,302.6L64.0,302.6L64.8,302.6L65.5,302.6L66.2,302.6L67.0,302.6L67.8,302.6L68.5,302.6L69.2,302.6L70.0,302.7L70.8,302.7L71.5,302.7L72.2,302.7L73.0,302.7L73.8,302.7L74.5,302.7L75.2,302.7L76.0,302.7L76.8,302.7L77.5,302.7L78.2,302.7L79.0,302.7L79.8,302.7L80.5,302.7L81.2,302.7L82.0,302.7L82.8,302.7L83.5,302.8L84.2,302.8L85.0,302.8L85.8,302.8L86.5,302.8L87.2,302.8L88.0,302.8L88.8,302.8L89.5,302.8L90.2,302.8L91.0,302.8L91.8,302.8L92.5,302.9L93.2,302.9L94.0,302.9L94.8,302.9L95.5,302.9L96.2,302.9L97.0,302.9L97.8,302.9L98.5,302.9L99.2,302.9L100.0,303.0L100.8,303.0L101.5,303.0L102.2,303.0L103.0,303.0L103.8,303.0L104.5,303.0L105.2,303.1L106.0,303.1L106.8,303.1L107.5,303.1L108.2,303.1L109.0,303.1L109.8,303.2L110.5,303.2L111.2,303.2L112.0,303.2L112.8,303.2L113.5,303.3L114.2,303.3L115.0,303.3L115.8,303.3L116.5,303.3L117.2,303.4L118.0,303.4L118.8,303.4L119.5,303.5L120.2,303.5L121.0,303.5L121.8,303.5L122.5,303.6L123.2,303.6L124.0,303.6L124.8,303.7L125.5,303.7L126.2,303.8L127.0,303.8L127.8,303.8L128.5,303.9L129.2,303.9L130.0,304.0L130.8,304.0L131.5,304.1L132.2,304.2L133.0,304.2L133.8,304.3L134.5,304.3L135.2,304.4L136.0,304.5L136.8,304.6L137.5,304.7L138.2,304.7L139.0,304.8L139.8,304.9L140.5,305.0L141.2,305.1L142.0,305.3L142.8,305.4L143.5,305.5L144.2,305.7L145.0,305.8L145.8,306.0L146.5,306.1L147.2,306.3L148.0,306.5L148.8,306.7L149.5,307.0L150.2,307.2L151.0,307.5L151.8,307.8L152.5,308.1L153.2,308.5L154.0,308.9L154.8,309.3L155.5,309.9L156.2,310.4L157.0,311.1L157.8,311.9L158.5,312.8L159.2,313.8L160.0,315.0L160.8,316.4L161.5,318.0L162.2,319.8L163.0,321.9L163.8,324.3L164.5,327.0L165.2,330.0L166.0,333.4L166.8,337.1L167.5,341.1L168.2,345.4L169.0,349.8L169.8,354.3L170.5,358.7L171.2,362.7L172.0,366.1L172.8,368.6L173.5,370.2L174.2,370.6L175.0,369.9L175.8,368.2L176.5,366.0L177.2,363.3L178.0,360.5L178.8,357.9L179.5,355.6L180.2,353.7L181.0,352.4L181.8,351.7L182.5,351.7L183.2,352.3L184.0,353.4L184.8,355.2L185.5,357.4L186.2,360.0L187.0,362.7L187.8,365.4L188.5,367.8L189.2,369.6L190.0,370.5L190.8,370.3L191.5,369.0L192.2,366.7L193.0,363.4L193.8,359.5L194.5,355.2L195.2,350.7L196.0,346.3L196.8,342.0L197.5,337.9L198.2,334.1L199.0,330.7L199.8,327.6L200.5,324.8L201.2,322.3L202.0,320.2L202.8,318.3L203.5,316.7L204.2,315.2L205.0,314.0L205.8,313.0L206.5,312.1L207.2,311.3L208.0,310.6L208.8,310.0L209.5,309.4L210.2,309.0L211.0,308.6L211.8,308.2L212.5,307.9L213.2,307.5L214.0,307.3L214.8,307.0L215.5,306.8L216.2,306.6L217.0,306.4L217.8,306.2L218.5,306.0L219.2,305.8L220.0,305.7L220.8,305.5L221.5,305.4L222.2,305.3L223.0,305.2L223.8,305.1L224.5,304.9L225.2,304.8L226.0,304.8L226.8,304.7L227.5,304.6L228.2,304.5L229.0,304.4L229.8,304.4L230.5,304.3L231.2,304.2L232.0,304.2L232.8,304.1L233.5,304.1L234.2,304.0L235.0,304.0L235.8,303.9L236.5,303.9L237.2,303.8L238.0,303.8L238.8,303.7L239.5,303.7L240.2,303.7L241.0,303.6L241.8,303.6L242.5,303.5L243.2,303.5L244.0,303.5L244.8,303.5L245.5,303.4L246.2,303.4L247.0,303.4L247.8,303.4L248.5,303.3L249.2,303.3L250.0,303.3L250.8,303.3L251.5,303.2L252.2,303.2L253.0,303.2L253.8,303.2L254.5,303.2L255.2,303.1L256.0,303.1L256.8,303.1L257.5,303.1L258.2,303.1L259.0,303.1L259.8,303.0L260.5,303.0L261.2,303.0L262.0,303.0L262.8,303.0L263.5,303.0L264.2,303.0L265.0,302.9L265.8,302.9L266.5,302.9L267.2,302.9L268.0,302.9L268.8,302.9L269.5,302.9L270.2,302.9L271.0,302.9L271.8,302.9L272.5,302.8L273.2,302.8L274.0,302.8L274.8,302.8L275.5,302.8L276.2,302.8L277.0,302.8L277.8,302.8L278.5,302.8L279.2,302.8L280.0,302.8L280.8,302.8L281.5,302.7L282.2,302.7L283.0,302.7L283.8,302.7L284.5,302.7L285.2,302.7L286.0,302.7L286.8,302.7L287.5,302.7L288.2,302.7L289.0,302.7L289.8,302.7L290.5,302.7L291.2,302.7L292.0,302.7L292.8,302.7L293.5,302.7L294.2,302.7L295.0,302.6L295.8,302.6L296.5,302.6L297.2,302.6L298.0,302.6L298.8,302.6L299.5,302.6L300.2,302.6L301.0,302.6L301.8,302.6L302.5,302.6L303.2,302.6L304.0,302.6L304.8,302.6L305.5,302.6L306.2,302.6L307.0,302.6L307.8,302.6L308.5,302.6L309.2,302.6L310.0,302.6L310.8,302.6L311.5,302.6L312.2,302.6L313.0,302.6L313.8,302.6L314.5,302.6L315.2,302.5L316.0,302.5L316.8,302.5L317.5,302.5L318.2,302.5L319.0,302.5L319.8,302.5L320.5,302.5L321.2,302.5L322.0,302.5L322.8,302.5L323.5,302.5L324.2,302.5L325.0,302.5L325.8,302.5L326.5,302.5L327.2,302.5L328.0,302.5L328.8,302.5L329.5,302.5L330.2,302.5L331.0,302.5L331.8,302.5L332.5,302.5L333.2,302.5L334.0,302.5" stroke="#7030A0" stroke-width="2.2" fill="none"/>
<path d="M23.5,302.0L24.2,302.1L25.0,302.1L25.8,302.1L26.5,302.1L27.2,302.2L28.0,302.2L28.8,302.2L29.5,302.2L30.2,302.3L31.0,302.3L31.8,302.3L32.5,302.4L33.2,302.4L34.0,302.4L34.8,302.5L35.5,302.5L36.2,302.5L37.0,302.6L37.8,302.6L38.5,302.7L39.2,302.7L40.0,302.7L40.8,302.8L41.5,302.8L42.2,302.9L43.0,302.9L43.8,303.0L44.5,303.0L45.2,303.1L46.0,303.1L46.8,303.2L47.5,303.2L48.2,303.3L49.0,303.4L49.8,303.4L50.5,303.5L51.2,303.6L52.0,303.7L52.8,303.7L53.5,303.8L54.2,303.9L55.0,304.0L55.8,304.1L56.5,304.2L57.2,304.3L58.0,304.4L58.8,304.5L59.5,304.6L60.2,304.7L61.0,304.8L61.8,305.0L62.5,305.1L63.2,305.2L64.0,305.4L64.8,305.5L65.5,305.7L66.2,305.9L67.0,306.1L67.8,306.3L68.5,306.5L69.2,306.7L70.0,306.9L70.8,307.2L71.5,307.4L72.2,307.7L73.0,308.0L73.8,308.3L74.5,308.6L75.2,309.0L76.0,309.4L76.8,309.8L77.5,310.2L78.2,310.7L79.0,311.2L79.8,311.7L80.5,312.3L81.2,313.0L82.0,313.7L82.8,314.4L83.5,315.2L84.2,316.1L85.0,317.1L85.8,318.1L86.5,319.3L87.2,320.6L88.0,322.0L88.8,323.5L89.5,325.2L90.2,327.0L91.0,329.0L91.8,331.2L92.5,333.6L93.2,336.3L94.0,339.1L94.8,342.2L95.5,345.5L96.2,348.9L97.0,352.5L97.8,356.1L98.5,359.7L99.2,363.1L100.0,366.3L100.8,369.3L101.5,372.3L102.2,375.8L103.0,375.8L103.8,372.5L104.5,369.8L105.2,367.1L106.0,364.2L106.8,361.0L107.5,357.8L108.2,354.4L109.0,351.2L109.8,348.1L110.5,345.2L111.2,342.5L112.0,340.0L112.8,337.8L113.5,335.8L114.2,334.0L115.0,332.5L115.8,331.2L116.5,330.0L117.2,329.1L118.0,328.3L118.8,327.7L119.5,327.3L120.2,327.0L121.0,326.9L121.8,326.9L122.5,327.1L123.2,327.4L124.0,327.9L124.8,328.6L125.5,329.4L126.2,330.4L127.0,331.6L127.8,333.0L128.5,334.5L129.2,336.2L130.0,338.1L130.8,340.0L131.5,342.1L132.2,344.2L133.0,346.3L133.8,348.2L134.5,350.0L135.2,351.7L136.0,353.7L136.8,355.4L137.5,353.8L138.2,351.6L139.0,349.7L139.8,347.7L140.5,345.6L141.2,343.3L142.0,341.0L142.8,338.7L143.5,336.5L144.2,334.3L145.0,332.4L145.8,330.5L146.5,328.9L147.2,327.3L148.0,326.0L148.8,324.8L149.5,323.7L150.2,322.8L151.0,322.0L151.8,321.3L152.5,320.8L153.2,320.3L154.0,320.0L154.8,319.7L155.5,319.6L156.2,319.5L157.0,319.6L157.8,319.7L158.5,320.0L159.2,320.3L160.0,320.7L160.8,321.3L161.5,321.9L162.2,322.7L163.0,323.5L163.8,324.4L164.5,325.4L165.2,326.4L166.0,327.5L166.8,328.5L167.5,329.5L168.2,330.4L169.0,331.3L169.8,332.4L170.5,332.8L171.2,331.8L172.0,330.8L172.8,329.9L173.5,329.0L174.2,328.0L175.0,327.0L175.8,326.0L176.5,325.0L177.2,324.1L178.0,323.2L178.8,322.5L179.5,321.8L180.2,321.3L181.0,320.9L181.8,320.6L182.5,320.4L183.2,320.3L184.0,320.3L184.8,320.4L185.5,320.7L186.2,321.1L187.0,321.5L187.8,322.1L188.5,322.8L189.2,323.6L190.0,324.5L190.8,325.5L191.5,326.5L192.2,327.5L193.0,328.6L193.8,329.5L194.5,330.4L195.2,331.3L196.0,332.4L196.8,332.9L197.5,331.9L198.2,331.0L199.0,330.1L199.8,329.2L200.5,328.2L201.2,327.2L202.0,326.1L202.8,325.1L203.5,324.2L204.2,323.3L205.0,322.6L205.8,321.9L206.5,321.3L207.2,320.8L208.0,320.5L208.8,320.2L209.5,320.1L210.2,320.0L211.0,320.0L211.8,320.2L212.5,320.4L213.2,320.8L214.0,321.3L214.8,321.8L215.5,322.5L216.2,323.3L217.0,324.3L217.8,325.4L218.5,326.6L219.2,328.0L220.0,329.6L220.8,331.3L221.5,333.2L222.2,335.2L223.0,337.3L223.8,339.6L224.5,341.9L225.2,344.2L226.0,346.4L226.8,348.5L227.5,350.4L228.2,352.3L229.0,354.6L229.8,354.8L230.5,352.7L231.2,350.9L232.0,349.2L232.8,347.3L233.5,345.2L234.2,343.1L235.0,341.0L235.8,339.0L236.5,337.0L237.2,335.2L238.0,333.5L238.8,332.0L239.5,330.7L240.2,329.5L241.0,328.6L241.8,327.7L242.5,327.1L243.2,326.6L244.0,326.3L244.8,326.1L245.5,326.0L246.2,326.1L247.0,326.4L247.8,326.8L248.5,327.3L249.2,328.0L250.0,328.9L250.8,329.9L251.5,331.2L252.2,332.6L253.0,334.2L253.8,336.1L254.5,338.2L255.2,340.5L256.0,343.1L256.8,345.9L257.5,348.9L258.2,352.0L259.0,355.3L259.8,358.7L260.5,361.9L261.2,365.0L262.0,367.9L262.8,370.5L263.5,373.4L264.2,376.4L265.0,374.6L265.8,371.2L266.5,368.2L267.2,365.2L268.0,361.9L268.8,358.4L269.5,354.8L270.2,351.2L271.0,347.7L271.8,344.3L272.5,341.1L273.2,338.1L274.0,335.3L274.8,332.7L275.5,330.4L276.2,328.3L277.0,326.3L277.8,324.5L278.5,322.9L279.2,321.4L280.0,320.1L280.8,318.9L281.5,317.7L282.2,316.7L283.0,315.8L283.8,314.9L284.5,314.1L285.2,313.4L286.0,312.7L286.8,312.1L287.5,311.5L288.2,311.0L289.0,310.5L289.8,310.0L290.5,309.6L291.2,309.2L292.0,308.8L292.8,308.5L293.5,308.2L294.2,307.9L295.0,307.6L295.8,307.3L296.5,307.1L297.2,306.8L298.0,306.6L298.8,306.4L299.5,306.2L300.2,306.0L301.0,305.8L301.8,305.6L302.5,305.5L303.2,305.3L304.0,305.2L304.8,305.0L305.5,304.9L306.2,304.8L307.0,304.7L307.8,304.5L308.5,304.4L309.2,304.3L310.0,304.2L310.8,304.1L311.5,304.0L312.2,303.9L313.0,303.9L313.8,303.8L314.5,303.7L315.2,303.6L316.0,303.5L316.8,303.5L317.5,303.4L318.2,303.3L319.0,303.3L319.8,303.2L320.5,303.2L321.2,303.1L322.0,303.0L322.8,303.0L323.5,302.9L324.2,302.9L325.0,302.8L325.8,302.8L326.5,302.8L327.2,302.7L328.0,302.7L328.8,302.6L329.5,302.6L330.2,302.6L331.0,302.5L331.8,302.5L332.5,302.4L333.2,302.4L334.0,302.4" stroke="#FFC000" stroke-width="2.2" fill="none"/>
<path d="M23.5,301.9L24.2,301.9L25.0,301.9L25.8,302.0L26.5,302.0L27.2,302.0L28.0,302.0L28.8,302.0L29.5,302.0L30.2,302.0L31.0,302.1L31.8,302.1L32.5,302.1L33.2,302.1L34.0,302.2L34.8,302.2L35.5,302.3L36.2,302.3L37.0,302.4L37.8,302.5L38.5,302.7L39.2,302.9L40.0,303.1L40.8,303.4L41.5,303.8L42.2,304.2L43.0,304.7L43.8,305.3L44.5,305.9L45.2,306.5L46.0,307.1L46.8,307.6L47.5,307.9L48.2,308.0L49.0,307.9L49.8,307.6L50.5,307.1L51.2,306.6L52.0,306.0L52.8,305.3L53.5,304.8L54.2,304.3L55.0,303.8L55.8,303.5L56.5,303.2L57.2,302.9L58.0,302.7L58.8,302.6L59.5,302.4L60.2,302.4L61.0,302.3L61.8,302.2L62.5,302.2L63.2,302.2L64.0,302.1L64.8,302.1L65.5,302.1L66.2,302.1L67.0,302.1L67.8,302.0L68.5,302.0L69.2,302.0L70.0,302.0L70.8,302.0L71.5,302.0L72.2,302.0L73.0,302.0L73.8,302.0L74.5,302.0L75.2,302.0L76.0,302.0L76.8,302.0L77.5,302.0L78.2,302.0L79.0,302.0L79.8,302.0L80.5,302.0L81.2,302.0L82.0,302.0L82.8,302.0L83.5,302.0L84.2,302.0L85.0,302.0L85.8,302.0L86.5,302.0L87.2,302.1L88.0,302.1L88.8,302.1L89.5,302.1L90.2,302.2L91.0,302.2L91.8,302.3L92.5,302.3L93.2,302.4L94.0,302.6L94.8,302.7L95.5,302.9L96.2,303.2L97.0,303.5L97.8,303.8L98.5,304.2L99.2,304.6L100.0,305.0L100.8,305.4L101.5,305.7L102.2,306.0L103.0,306.0L103.8,306.0L104.5,305.7L105.2,305.4L106.0,305.0L106.8,304.6L107.5,304.2L108.2,303.8L109.0,303.5L109.8,303.2L110.5,302.9L111.2,302.7L112.0,302.6L112.8,302.4L113.5,302.3L114.2,302.3L115.0,302.2L115.8,302.1L116.5,302.1L117.2,302.1L118.0,302.1L118.8,302.0L119.5,302.0L120.2,302.0L121.0,302.0L121.8,302.0L122.5,302.0L123.2,302.0L124.0,302.0L124.8,302.0L125.5,301.9L126.2,301.9L127.0,301.9L127.8,301.9L128.5,301.9L129.2,301.9L130.0,301.9L130.8,301.9L131.5,301.9L132.2,301.9L133.0,301.9L133.8,301.9L134.5,301.9L135.2,301.9L136.0,301.9L136.8,301.9L137.5,301.9L138.2,301.9L139.0,301.9L139.8,301.9L140.5,301.9L141.2,302.0L142.0,302.0L142.8,302.0L143.5,302.0L144.2,302.0L145.0,302.0L145.8,302.0L146.5,302.1L147.2,302.1L148.0,302.1L148.8,302.2L149.5,302.3L150.2,302.4L151.0,302.5L151.8,302.7L152.5,302.8L153.2,303.0L154.0,303.2L154.8,303.4L155.5,303.7L156.2,303.8L157.0,304.0L157.8,304.0L158.5,304.0L159.2,303.9L160.0,303.8L160.8,303.6L161.5,303.4L162.2,303.2L163.0,303.0L163.8,302.8L164.5,302.6L165.2,302.5L166.0,302.3L166.8,302.3L167.5,302.2L168.2,302.1L169.0,302.1L169.8,302.1L170.5,302.0L171.2,302.0L172.0,302.0L172.8,302.0L173.5,302.0L174.2,302.0L175.0,302.0L175.8,302.0L176.5,302.0L177.2,301.9L178.0,301.9L178.8,301.9L179.5,301.9L180.2,301.9L181.0,301.9L181.8,302.0L182.5,302.0L183.2,302.0L184.0,302.0L184.8,302.0L185.5,302.0L186.2,302.0L187.0,302.0L187.8,302.0L188.5,302.1L189.2,302.1L190.0,302.1L190.8,302.2L191.5,302.3L192.2,302.4L193.0,302.5L193.8,302.7L194.5,302.8L195.2,303.0L196.0,303.2L196.8,303.4L197.5,303.7L198.2,303.8L199.0,304.0L199.8,304.0L200.5,304.0L201.2,303.9L202.0,303.8L202.8,303.6L203.5,303.4L204.2,303.2L205.0,303.0L205.8,302.8L206.5,302.6L207.2,302.5L208.0,302.3L208.8,302.3L209.5,302.2L210.2,302.1L211.0,302.1L211.8,302.0L212.5,302.0L213.2,302.0L214.0,302.0L214.8,302.0L215.5,302.0L216.2,302.0L217.0,302.0L217.8,301.9L218.5,301.9L219.2,301.9L220.0,301.9L220.8,301.9L221.5,301.9L222.2,301.9L223.0,301.9L223.8,301.9L224.5,301.9L225.2,301.9L226.0,301.9L226.8,301.9L227.5,301.9L228.2,301.9L229.0,301.9L229.8,301.9L230.5,302.0L231.2,302.0L232.0,302.0L232.8,302.0L233.5,302.0L234.2,302.0L235.0,302.0L235.8,302.0L236.5,302.0L237.2,302.0L238.0,302.1L238.8,302.1L239.5,302.1L240.2,302.2L241.0,302.2L241.8,302.3L242.5,302.3L243.2,302.4L244.0,302.6L244.8,302.8L245.5,303.0L246.2,303.2L247.0,303.5L247.8,303.9L248.5,304.3L249.2,304.7L250.0,305.1L250.8,305.5L251.5,305.8L252.2,306.0L253.0,306.0L253.8,305.9L254.5,305.7L255.2,305.4L256.0,305.0L256.8,304.6L257.5,304.2L258.2,303.8L259.0,303.4L259.8,303.2L260.5,302.9L261.2,302.7L262.0,302.6L262.8,302.4L263.5,302.3L264.2,302.3L265.0,302.2L265.8,302.2L266.5,302.1L267.2,302.1L268.0,302.1L268.8,302.1L269.5,302.0L270.2,302.0L271.0,302.0L271.8,302.0L272.5,302.0L273.2,302.0L274.0,302.0L274.8,302.0L275.5,302.0L276.2,302.0L277.0,302.0L277.8,302.0L278.5,302.0L279.2,302.0L280.0,302.0L280.8,302.0L281.5,302.0L282.2,302.0L283.0,302.0L283.8,302.0L284.5,302.0L285.2,302.0L286.0,302.0L286.8,302.1L287.5,302.1L288.2,302.1L289.0,302.1L289.8,302.1L290.5,302.1L291.2,302.2L292.0,302.2L292.8,302.2L293.5,302.3L294.2,302.4L295.0,302.4L295.8,302.5L296.5,302.7L297.2,302.8L298.0,303.1L298.8,303.3L299.5,303.7L300.2,304.1L301.0,304.6L301.8,305.2L302.5,305.9L303.2,306.6L304.0,307.3L304.8,307.9L305.5,308.5L306.2,308.9L307.0,309.0L307.8,308.9L308.5,308.5L309.2,307.9L310.0,307.3L310.8,306.6L311.5,305.9L312.2,305.2L313.0,304.6L313.8,304.1L314.5,303.7L315.2,303.3L316.0,303.0L316.8,302.8L317.5,302.7L318.2,302.5L319.0,302.4L319.8,302.3L320.5,302.3L321.2,302.2L322.0,302.2L322.8,302.1L323.5,302.1L324.2,302.1L325.0,302.1L325.8,302.1L326.5,302.0L327.2,302.0L328.0,302.0L328.8,302.0L329.5,302.0L330.2,302.0L331.0,302.0L331.8,302.0L332.5,301.9L333.2,301.9L334.0,301.9" stroke="#70AD47" stroke-width="2.0" fill="none"/>
<path d="M23.5,301.3L24.2,301.3L25.0,301.3L25.8,301.3L26.5,301.3L27.2,301.3L28.0,301.3L28.8,301.3L29.5,301.3L30.2,301.3L31.0,301.3L31.8,301.3L32.5,301.3L33.2,301.3L34.0,301.3L34.8,301.3L35.5,301.3L36.2,301.3L37.0,301.3L37.8,301.3L38.5,301.3L39.2,301.3L40.0,301.3L40.8,301.3L41.5,301.4L42.2,301.4L43.0,301.4L43.8,301.4L44.5,301.4L45.2,301.4L46.0,301.4L46.8,301.4L47.5,301.4L48.2,301.4L49.0,301.4L49.8,301.4L50.5,301.4L51.2,301.4L52.0,301.4L52.8,301.4L53.5,301.4L54.2,301.4L55.0,301.4L55.8,301.4L56.5,301.4L57.2,301.4L58.0,301.4L58.8,301.4L59.5,301.4L60.2,301.4L61.0,301.4L61.8,301.4L62.5,301.4L63.2,301.4L64.0,301.4L64.8,301.4L65.5,301.4L66.2,301.5L67.0,301.5L67.8,301.5L68.5,301.5L69.2,301.5L70.0,301.5L70.8,301.5L71.5,301.5L72.2,301.5L73.0,301.5L73.8,301.5L74.5,301.5L75.2,301.5L76.0,301.5L76.8,301.5L77.5,301.5L78.2,301.5L79.0,301.5L79.8,301.6L80.5,301.6L81.2,301.6L82.0,301.6L82.8,301.6L83.5,301.6L84.2,301.6L85.0,301.6L85.8,301.6L86.5,301.6L87.2,301.6L88.0,301.7L88.8,301.7L89.5,301.7L90.2,301.7L91.0,301.7L91.8,301.7L92.5,301.7L93.2,301.8L94.0,301.8L94.8,301.8L95.5,301.8L96.2,301.8L97.0,301.8L97.8,301.9L98.5,301.9L99.2,301.9L100.0,301.9L100.8,301.9L101.5,302.0L102.2,302.0L103.0,302.0L103.8,302.1L104.5,302.1L105.2,302.1L106.0,302.2L106.8,302.2L107.5,302.2L108.2,302.3L109.0,302.3L109.8,302.4L110.5,302.4L111.2,302.5L112.0,302.5L112.8,302.6L113.5,302.7L114.2,302.7L115.0,302.8L115.8,302.9L116.5,303.0L117.2,303.1L118.0,303.2L118.8,303.3L119.5,303.4L120.2,303.6L121.0,303.7L121.8,303.9L122.5,304.1L123.2,304.3L124.0,304.5L124.8,304.7L125.5,305.0L126.2,305.4L127.0,305.7L127.8,306.2L128.5,306.7L129.2,307.3L130.0,308.0L130.8,308.8L131.5,309.8L132.2,310.9L133.0,312.3L133.8,313.8L134.5,315.6L135.2,317.6L136.0,319.8L136.8,322.3L137.5,325.0L138.2,327.9L139.0,330.8L139.8,333.6L140.5,336.0L141.2,337.8L142.0,338.8L142.8,338.9L143.5,337.9L144.2,336.1L145.0,333.8L145.8,331.0L146.5,328.1L147.2,325.3L148.0,322.5L148.8,320.0L149.5,317.8L150.2,315.7L151.0,314.0L151.8,312.4L152.5,311.1L153.2,310.0L154.0,309.0L154.8,308.2L155.5,307.5L156.2,306.9L157.0,306.3L157.8,305.9L158.5,305.5L159.2,305.2L160.0,304.9L160.8,304.7L161.5,304.4L162.2,304.2L163.0,304.1L163.8,303.9L164.5,303.8L165.2,303.6L166.0,303.5L166.8,303.4L167.5,303.3L168.2,303.2L169.0,303.1L169.8,303.1L170.5,303.0L171.2,302.9L172.0,302.9L172.8,302.8L173.5,302.8L174.2,302.7L175.0,302.7L175.8,302.7L176.5,302.6L177.2,302.6L178.0,302.6L178.8,302.6L179.5,302.5L180.2,302.5L181.0,302.5L181.8,302.5L182.5,302.5L183.2,302.5L184.0,302.5L184.8,302.5L185.5,302.5L186.2,302.5L187.0,302.5L187.8,302.5L188.5,302.5L189.2,302.5L190.0,302.5L190.8,302.6L191.5,302.6L192.2,302.6L193.0,302.6L193.8,302.6L194.5,302.7L195.2,302.7L196.0,302.8L196.8,302.8L197.5,302.8L198.2,302.9L199.0,303.0L199.8,303.0L200.5,303.1L201.2,303.2L202.0,303.2L202.8,303.3L203.5,303.4L204.2,303.5L205.0,303.7L205.8,303.8L206.5,303.9L207.2,304.1L208.0,304.3L208.8,304.5L209.5,304.7L210.2,305.0L211.0,305.3L211.8,305.6L212.5,306.0L213.2,306.5L214.0,307.0L214.8,307.6L215.5,308.4L216.2,309.3L217.0,310.3L217.8,311.5L218.5,312.9L219.2,314.5L220.0,316.3L220.8,318.4L221.5,320.7L222.2,323.3L223.0,326.1L223.8,328.9L224.5,331.8L225.2,334.4L226.0,336.6L226.8,338.1L227.5,338.8L228.2,338.4L229.0,337.1L229.8,335.1L230.5,332.5L231.2,329.7L232.0,326.8L232.8,324.0L233.5,321.4L234.2,318.9L235.0,316.8L235.8,314.9L236.5,313.2L237.2,311.7L238.0,310.5L238.8,309.4L239.5,308.5L240.2,307.7L241.0,307.1L241.8,306.5L242.5,306.0L243.2,305.6L244.0,305.2L244.8,304.9L245.5,304.6L246.2,304.4L247.0,304.2L247.8,304.0L248.5,303.8L249.2,303.6L250.0,303.5L250.8,303.4L251.5,303.2L252.2,303.1L253.0,303.0L253.8,302.9L254.5,302.9L255.2,302.8L256.0,302.7L256.8,302.6L257.5,302.6L258.2,302.5L259.0,302.4L259.8,302.4L260.5,302.3L261.2,302.3L262.0,302.3L262.8,302.2L263.5,302.2L264.2,302.1L265.0,302.1L265.8,302.1L266.5,302.0L267.2,302.0L268.0,302.0L268.8,302.0L269.5,301.9L270.2,301.9L271.0,301.9L271.8,301.9L272.5,301.8L273.2,301.8L274.0,301.8L274.8,301.8L275.5,301.8L276.2,301.8L277.0,301.7L277.8,301.7L278.5,301.7L279.2,301.7L280.0,301.7L280.8,301.7L281.5,301.7L282.2,301.7L283.0,301.6L283.8,301.6L284.5,301.6L285.2,301.6L286.0,301.6L286.8,301.6L287.5,301.6L288.2,301.6L289.0,301.6L289.8,301.6L290.5,301.6L291.2,301.5L292.0,301.5L292.8,301.5L293.5,301.5L294.2,301.5L295.0,301.5L295.8,301.5L296.5,301.5L297.2,301.5L298.0,301.5L298.8,301.5L299.5,301.5L300.2,301.5L301.0,301.5L301.8,301.5L302.5,301.5L303.2,301.5L304.0,301.4L304.8,301.4L305.5,301.4L306.2,301.4L307.0,301.4L307.8,301.4L308.5,301.4L309.2,301.4L310.0,301.4L310.8,301.4L311.5,301.4L312.2,301.4L313.0,301.4L313.8,301.4L314.5,301.4L315.2,301.4L316.0,301.4L316.8,301.4L317.5,301.4L318.2,301.4L319.0,301.4L319.8,301.4L320.5,301.4L321.2,301.4L322.0,301.4L322.8,301.4L323.5,301.4L324.2,301.4L325.0,301.4L325.8,301.4L326.5,301.4L327.2,301.4L328.0,301.4L328.8,301.3L329.5,301.3L330.2,301.3L331.0,301.3L331.8,301.3L332.5,301.3L333.2,301.3L334.0,301.3" stroke="#843C0C" stroke-width="2.2" fill="none"/>
<g fill="#000"><circle cx="23.5" cy="306.1" r="1.45"/><circle cx="24.7" cy="307.1" r="1.45"/><circle cx="25.9" cy="306.1" r="1.45"/><circle cx="27.2" cy="307.9" r="1.45"/><circle cx="28.4" cy="303.9" r="1.45"/><circle cx="29.6" cy="309.9" r="1.45"/><circle cx="30.8" cy="305.7" r="1.45"/><circle cx="32.0" cy="307.5" r="1.45"/><circle cx="33.2" cy="305.6" r="1.45"/><circle cx="34.5" cy="310.3" r="1.45"/><circle cx="35.7" cy="312.4" r="1.45"/><circle cx="36.9" cy="312.7" r="1.45"/><circle cx="38.1" cy="312.8" r="1.45"/><circle cx="39.3" cy="308.4" r="1.45"/><circle cx="40.5" cy="310.7" r="1.45"/><circle cx="41.8" cy="311.9" r="1.45"/><circle cx="43.0" cy="311.3" r="1.45"/><circle cx="44.2" cy="316.0" r="1.45"/><circle cx="45.4" cy="314.3" r="1.45"/><circle cx="46.6" cy="314.0" r="1.45"/><circle cx="47.9" cy="315.1" r="1.45"/><circle cx="49.1" cy="311.9" r="1.45"/><circle cx="50.3" cy="311.7" r="1.45"/><circle cx="51.5" cy="311.3" r="1.45"/><circle cx="52.7" cy="313.6" r="1.45"/><circle cx="53.9" cy="312.6" r="1.45"/><circle cx="55.2" cy="312.5" r="1.45"/><circle cx="56.4" cy="313.0" r="1.45"/><circle cx="57.6" cy="307.3" r="1.45"/><circle cx="58.8" cy="308.6" r="1.45"/><circle cx="60.0" cy="309.8" r="1.45"/><circle cx="61.2" cy="306.7" r="1.45"/><circle cx="62.5" cy="308.6" r="1.45"/><circle cx="63.7" cy="312.2" r="1.45"/><circle cx="64.9" cy="312.8" r="1.45"/><circle cx="66.1" cy="313.3" r="1.45"/><circle cx="67.3" cy="311.6" r="1.45"/><circle cx="68.6" cy="311.4" r="1.45"/><circle cx="69.8" cy="314.4" r="1.45"/><circle cx="71.0" cy="311.6" r="1.45"/><circle cx="72.2" cy="313.2" r="1.45"/><circle cx="73.4" cy="315.5" r="1.45"/><circle cx="74.6" cy="312.2" r="1.45"/><circle cx="75.9" cy="312.0" r="1.45"/><circle cx="77.1" cy="313.8" r="1.45"/><circle cx="78.3" cy="315.8" r="1.45"/><circle cx="79.5" cy="316.4" r="1.45"/><circle cx="80.7" cy="316.9" r="1.45"/><circle cx="81.9" cy="319.2" r="1.45"/><circle cx="83.2" cy="316.6" r="1.45"/><circle cx="84.4" cy="320.3" r="1.45"/><circle cx="85.6" cy="325.0" r="1.45"/><circle cx="86.8" cy="325.7" r="1.45"/><circle cx="88.0" cy="328.1" r="1.45"/><circle cx="89.3" cy="332.0" r="1.45"/><circle cx="90.5" cy="336.5" r="1.45"/><circle cx="91.7" cy="342.4" r="1.45"/><circle cx="92.9" cy="345.3" r="1.45"/><circle cx="94.1" cy="352.9" r="1.45"/><circle cx="95.3" cy="361.3" r="1.45"/><circle cx="96.6" cy="363.0" r="1.45"/><circle cx="97.8" cy="371.8" r="1.45"/><circle cx="99.0" cy="375.6" r="1.45"/><circle cx="100.2" cy="378.2" r="1.45"/><circle cx="101.4" cy="384.0" r="1.45"/><circle cx="102.6" cy="383.3" r="1.45"/><circle cx="103.9" cy="384.5" r="1.45"/><circle cx="105.1" cy="375.8" r="1.45"/><circle cx="106.3" cy="375.7" r="1.45"/><circle cx="107.5" cy="368.9" r="1.45"/><circle cx="108.7" cy="358.2" r="1.45"/><circle cx="110.0" cy="359.2" r="1.45"/><circle cx="111.2" cy="356.3" r="1.45"/><circle cx="112.4" cy="347.4" r="1.45"/><circle cx="113.6" cy="347.8" r="1.45"/><circle cx="114.8" cy="338.9" r="1.45"/><circle cx="116.0" cy="340.6" r="1.45"/><circle cx="117.3" cy="334.4" r="1.45"/><circle cx="118.5" cy="337.2" r="1.45"/><circle cx="119.7" cy="331.3" r="1.45"/><circle cx="120.9" cy="328.9" r="1.45"/><circle cx="122.1" cy="335.3" r="1.45"/><circle cx="123.3" cy="339.9" r="1.45"/><circle cx="124.6" cy="335.3" r="1.45"/><circle cx="125.8" cy="340.6" r="1.45"/><circle cx="127.0" cy="342.1" r="1.45"/><circle cx="128.2" cy="344.8" r="1.45"/><circle cx="129.4" cy="350.9" r="1.45"/><circle cx="130.7" cy="357.6" r="1.45"/><circle cx="131.9" cy="356.4" r="1.45"/><circle cx="133.1" cy="365.1" r="1.45"/><circle cx="134.3" cy="369.6" r="1.45"/><circle cx="135.5" cy="370.7" r="1.45"/><circle cx="136.7" cy="381.6" r="1.45"/><circle cx="138.0" cy="386.5" r="1.45"/><circle cx="139.2" cy="384.0" r="1.45"/><circle cx="140.4" cy="391.9" r="1.45"/><circle cx="141.6" cy="388.3" r="1.45"/><circle cx="142.8" cy="384.1" r="1.45"/><circle cx="144.0" cy="380.3" r="1.45"/><circle cx="145.3" cy="369.7" r="1.45"/><circle cx="146.5" cy="364.0" r="1.45"/><circle cx="147.7" cy="363.0" r="1.45"/><circle cx="148.9" cy="359.7" r="1.45"/><circle cx="150.1" cy="355.6" r="1.45"/><circle cx="151.4" cy="346.8" r="1.45"/><circle cx="152.6" cy="343.1" r="1.45"/><circle cx="153.8" cy="346.9" r="1.45"/><circle cx="155.0" cy="341.9" r="1.45"/><circle cx="156.2" cy="344.5" r="1.45"/><circle cx="157.4" cy="343.0" r="1.45"/><circle cx="158.7" cy="346.6" r="1.45"/><circle cx="159.9" cy="346.4" r="1.45"/><circle cx="161.1" cy="354.7" r="1.45"/><circle cx="162.3" cy="351.8" r="1.45"/><circle cx="163.5" cy="356.9" r="1.45"/><circle cx="164.7" cy="361.3" r="1.45"/><circle cx="166.0" cy="374.8" r="1.45"/><circle cx="167.2" cy="380.4" r="1.45"/><circle cx="168.4" cy="388.9" r="1.45"/><circle cx="169.6" cy="397.7" r="1.45"/><circle cx="170.8" cy="409.1" r="1.45"/><circle cx="172.1" cy="415.9" r="1.45"/><circle cx="173.3" cy="418.8" r="1.45"/><circle cx="174.5" cy="423.9" r="1.45"/><circle cx="175.7" cy="424.7" r="1.45"/><circle cx="176.9" cy="426.6" r="1.45"/><circle cx="178.1" cy="423.3" r="1.45"/><circle cx="179.4" cy="417.2" r="1.45"/><circle cx="180.6" cy="411.5" r="1.45"/><circle cx="181.8" cy="404.6" r="1.45"/><circle cx="183.0" cy="401.9" r="1.45"/><circle cx="184.2" cy="392.3" r="1.45"/><circle cx="185.4" cy="394.4" r="1.45"/><circle cx="186.7" cy="400.9" r="1.45"/><circle cx="187.9" cy="399.3" r="1.45"/><circle cx="189.1" cy="405.9" r="1.45"/><circle cx="190.3" cy="411.9" r="1.45"/><circle cx="191.5" cy="418.0" r="1.45"/><circle cx="192.8" cy="426.4" r="1.45"/><circle cx="194.0" cy="424.5" r="1.45"/><circle cx="195.2" cy="425.8" r="1.45"/><circle cx="196.4" cy="417.7" r="1.45"/><circle cx="197.6" cy="401.8" r="1.45"/><circle cx="198.8" cy="378.5" r="1.45"/><circle cx="200.1" cy="375.7" r="1.45"/><circle cx="201.3" cy="368.3" r="1.45"/><circle cx="202.5" cy="358.9" r="1.45"/><circle cx="203.7" cy="357.7" r="1.45"/><circle cx="204.9" cy="346.5" r="1.45"/><circle cx="206.1" cy="347.7" r="1.45"/><circle cx="207.4" cy="345.2" r="1.45"/><circle cx="208.6" cy="338.5" r="1.45"/><circle cx="209.8" cy="336.6" r="1.45"/><circle cx="211.0" cy="340.3" r="1.45"/><circle cx="212.2" cy="336.7" r="1.45"/><circle cx="213.5" cy="341.7" r="1.45"/><circle cx="214.7" cy="339.0" r="1.45"/><circle cx="215.9" cy="345.5" r="1.45"/><circle cx="217.1" cy="346.8" r="1.45"/><circle cx="218.3" cy="349.3" r="1.45"/><circle cx="219.5" cy="352.5" r="1.45"/><circle cx="220.8" cy="359.9" r="1.45"/><circle cx="222.0" cy="361.1" r="1.45"/><circle cx="223.2" cy="370.8" r="1.45"/><circle cx="224.4" cy="377.3" r="1.45"/><circle cx="225.6" cy="386.3" r="1.45"/><circle cx="226.8" cy="388.4" r="1.45"/><circle cx="228.1" cy="399.6" r="1.45"/><circle cx="229.3" cy="396.1" r="1.45"/><circle cx="230.5" cy="390.4" r="1.45"/><circle cx="231.7" cy="388.5" r="1.45"/><circle cx="232.9" cy="380.6" r="1.45"/><circle cx="234.2" cy="368.5" r="1.45"/><circle cx="235.4" cy="359.9" r="1.45"/><circle cx="236.6" cy="355.7" r="1.45"/><circle cx="237.8" cy="349.1" r="1.45"/><circle cx="239.0" cy="345.7" r="1.45"/><circle cx="240.2" cy="346.2" r="1.45"/><circle cx="241.5" cy="341.2" r="1.45"/><circle cx="242.7" cy="339.0" r="1.45"/><circle cx="243.9" cy="338.4" r="1.45"/><circle cx="245.1" cy="337.3" r="1.45"/><circle cx="246.3" cy="339.6" r="1.45"/><circle cx="247.5" cy="340.7" r="1.45"/><circle cx="248.8" cy="339.7" r="1.45"/><circle cx="250.0" cy="342.9" r="1.45"/><circle cx="251.2" cy="350.5" r="1.45"/><circle cx="252.4" cy="349.6" r="1.45"/><circle cx="253.6" cy="352.0" r="1.45"/><circle cx="254.9" cy="360.7" r="1.45"/><circle cx="256.1" cy="360.9" r="1.45"/><circle cx="257.3" cy="363.4" r="1.45"/><circle cx="258.5" cy="371.9" r="1.45"/><circle cx="259.7" cy="373.0" r="1.45"/><circle cx="260.9" cy="377.4" r="1.45"/><circle cx="262.2" cy="381.5" r="1.45"/><circle cx="263.4" cy="381.2" r="1.45"/><circle cx="264.6" cy="378.7" r="1.45"/><circle cx="265.8" cy="376.2" r="1.45"/><circle cx="267.0" cy="371.6" r="1.45"/><circle cx="268.2" cy="370.4" r="1.45"/><circle cx="269.5" cy="362.2" r="1.45"/><circle cx="270.7" cy="358.0" r="1.45"/><circle cx="271.9" cy="356.8" r="1.45"/><circle cx="273.1" cy="342.5" r="1.45"/><circle cx="274.3" cy="339.0" r="1.45"/><circle cx="275.6" cy="332.9" r="1.45"/><circle cx="276.8" cy="325.8" r="1.45"/><circle cx="278.0" cy="320.4" r="1.45"/><circle cx="279.2" cy="322.5" r="1.45"/><circle cx="280.4" cy="321.6" r="1.45"/><circle cx="281.6" cy="321.1" r="1.45"/><circle cx="282.9" cy="318.3" r="1.45"/><circle cx="284.1" cy="319.9" r="1.45"/><circle cx="285.3" cy="319.6" r="1.45"/><circle cx="286.5" cy="314.0" r="1.45"/><circle cx="287.7" cy="318.8" r="1.45"/><circle cx="288.9" cy="315.9" r="1.45"/><circle cx="290.2" cy="314.2" r="1.45"/><circle cx="291.4" cy="314.6" r="1.45"/><circle cx="292.6" cy="319.2" r="1.45"/><circle cx="293.8" cy="317.3" r="1.45"/><circle cx="295.0" cy="311.5" r="1.45"/><circle cx="296.3" cy="315.5" r="1.45"/><circle cx="297.5" cy="315.0" r="1.45"/><circle cx="298.7" cy="315.0" r="1.45"/><circle cx="299.9" cy="314.2" r="1.45"/><circle cx="301.1" cy="312.2" r="1.45"/><circle cx="302.3" cy="317.0" r="1.45"/><circle cx="303.6" cy="313.0" r="1.45"/><circle cx="304.8" cy="314.0" r="1.45"/><circle cx="306.0" cy="313.3" r="1.45"/><circle cx="307.2" cy="312.7" r="1.45"/><circle cx="308.4" cy="315.5" r="1.45"/><circle cx="309.6" cy="314.4" r="1.45"/><circle cx="310.9" cy="311.8" r="1.45"/><circle cx="312.1" cy="310.9" r="1.45"/><circle cx="313.3" cy="311.5" r="1.45"/><circle cx="314.5" cy="314.1" r="1.45"/><circle cx="315.7" cy="311.9" r="1.45"/><circle cx="317.0" cy="311.6" r="1.45"/><circle cx="318.2" cy="310.0" r="1.45"/><circle cx="319.4" cy="309.7" r="1.45"/><circle cx="320.6" cy="310.2" r="1.45"/><circle cx="321.8" cy="305.4" r="1.45"/><circle cx="323.0" cy="312.3" r="1.45"/><circle cx="324.3" cy="306.8" r="1.45"/><circle cx="325.5" cy="306.8" r="1.45"/><circle cx="326.7" cy="310.4" r="1.45"/><circle cx="327.9" cy="307.6" r="1.45"/><circle cx="329.1" cy="306.9" r="1.45"/><circle cx="330.3" cy="305.2" r="1.45"/><circle cx="331.6" cy="302.8" r="1.45"/><circle cx="332.8" cy="306.2" r="1.45"/><circle cx="334.0" cy="308.1" r="1.45"/></g>
<g fill="none" stroke="#000" stroke-width="2">
<rect x="11" y="3" width="336" height="146"/>
<rect x="9" y="153" width="338" height="135"/>
<rect x="9" y="292" width="338" height="148"/>
</g>
<g font-size="13.4" fill="#000">
<text x="16.2" y="143.2">Fe-N (400°C-4h)</text>
<text x="14.0" y="281.2" font-size="13.6">Fe-N (450°C-2.5h)</text>
<text x="14.0" y="433">Fe-N (500°C-4h)</text>
</g>
<g font-size="11.3" fill="#FF0000">
<text x="210.3" y="142.6">Substituted <tspan dx="2.7">Fe</tspan><tspan font-size="7.6" dy="2.5">2</tspan><tspan dy="-2.5">O</tspan><tspan font-size="7.6" dy="2.5">3</tspan><tspan dy="-2.5"> (86%)</tspan></text>
<text x="203.6" y="276.6">Substituted <tspan dx="1.7">Fe</tspan><tspan font-size="7.6" dy="2.5">2</tspan><tspan dy="-2.5">O</tspan><tspan font-size="7.6" dy="2.5">3</tspan><tspan dy="-2.5"> (37%)</tspan></text>
<text x="207.0" y="431.4">Substituted <tspan dx="2.2">Fe</tspan><tspan font-size="7.6" dy="2.5">2</tspan><tspan dy="-2.5">O</tspan><tspan font-size="7.6" dy="2.5">3</tspan><tspan dy="-2.5"> (&lt;1%)</tspan></text>
</g>
<g font-size="12" fill="#000">
<text x="9.4" y="458.4" text-anchor="middle">-7</text>
<text x="33.5" y="458.4" text-anchor="middle">-6</text>
<text x="57.5" y="458.4" text-anchor="middle">-5</text>
<text x="81.6" y="458.4" text-anchor="middle">-4</text>
<text x="105.6" y="458.4" text-anchor="middle">-3</text>
<text x="129.7" y="458.4" text-anchor="middle">-2</text>
<text x="153.7" y="458.4" text-anchor="middle">-1</text>
<text x="177.8" y="458.4" text-anchor="middle">0</text>
<text x="201.8" y="458.4" text-anchor="middle">1</text>
<text x="225.9" y="458.4" text-anchor="middle">2</text>
<text x="249.9" y="458.4" text-anchor="middle">3</text>
<text x="273.9" y="458.4" text-anchor="middle">4</text>
<text x="298.0" y="458.4" text-anchor="middle">5</text>
<text x="322.1" y="458.4" text-anchor="middle">6</text>
<text x="346.1" y="458.4" text-anchor="middle">7</text>
</g>
<text x="174.5" y="484.3" font-size="13.7" text-anchor="middle">Velocity (mm/s)</text>
</svg>
</body></html>
